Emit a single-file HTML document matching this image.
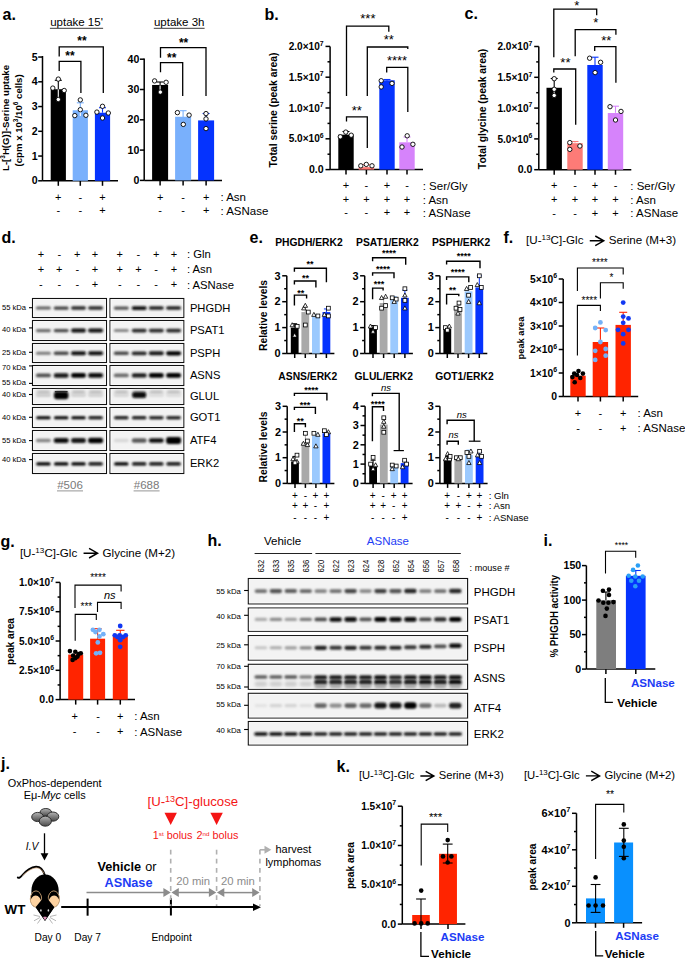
<!DOCTYPE html>
<html><head><meta charset="utf-8"><title>figure</title>
<style>
html,body{margin:0;padding:0;background:#fff;}
svg{display:block;}
text{font-family:"Liberation Sans",sans-serif;}
</style></head><body>
<svg width="685" height="959" viewBox="0 0 685 959">
<defs>
<linearGradient id="cg" x1="0" y1="0" x2="0" y2="1"><stop offset="0" stop-color="#b5b5b5"/><stop offset="1" stop-color="#4a4a4a"/></linearGradient>
<filter id="bl" x="-30%" y="-100%" width="160%" height="300%"><feGaussianBlur stdDeviation="0.6"/></filter>
<filter id="bl3" x="-30%" y="-100%" width="160%" height="300%"><feGaussianBlur stdDeviation="0.85"/></filter>
<filter id="bl4" x="-30%" y="-100%" width="160%" height="300%"><feGaussianBlur stdDeviation="0.75"/></filter>
<filter id="bl2" x="-30%" y="-80%" width="160%" height="260%"><feGaussianBlur stdDeviation="1.4"/></filter>
</defs>
<text x="2.6" y="19.6" font-size="16" font-weight="bold">a.</text>
<text x="76.5" y="26.3" font-size="11.5" text-anchor="middle">uptake 15'</text>
<text x="179.2" y="26.3" font-size="11.5" text-anchor="middle">uptake 3h</text>
<line x1="49.9" y1="28.3" x2="103.1" y2="28.3" stroke="#222" stroke-width="0.9" />
<line x1="153.8" y1="28.3" x2="204.6" y2="28.3" stroke="#222" stroke-width="0.9" />
<text x="8.8" y="118" font-size="9.6" font-weight="bold" text-anchor="middle" transform="rotate(-90 8.8 118)">L-[<tspan dy="-3.5" font-size="6.5">3</tspan><tspan dy="3.5">H(G)]-Serine uptake</tspan></text>
<text x="21.8" y="120.4" font-size="9.6" font-weight="bold" text-anchor="middle" transform="rotate(-90 21.8 120.4)">(cpm x 10<tspan dy="-3.5" font-size="6.5">3</tspan><tspan dy="3.5">/10</tspan><tspan dy="-3.5" font-size="6.5">6</tspan><tspan dy="3.5"> cells)</tspan></text>
<line x1="42.5" y1="56" x2="42.5" y2="180.8" stroke="#000" stroke-width="1.5" />
<line x1="38.2" y1="180.8" x2="42.5" y2="180.8" stroke="#000" stroke-width="1.5" />
<text x="37.6" y="184.46" font-size="10.6" font-weight="bold" text-anchor="end">0</text>
<line x1="38.2" y1="156.05" x2="42.5" y2="156.05" stroke="#000" stroke-width="1.5" />
<text x="37.6" y="159.71" font-size="10.6" font-weight="bold" text-anchor="end">1</text>
<line x1="38.2" y1="131.3" x2="42.5" y2="131.3" stroke="#000" stroke-width="1.5" />
<text x="37.6" y="134.96" font-size="10.6" font-weight="bold" text-anchor="end">2</text>
<line x1="38.2" y1="106.55" x2="42.5" y2="106.55" stroke="#000" stroke-width="1.5" />
<text x="37.6" y="110.21" font-size="10.6" font-weight="bold" text-anchor="end">3</text>
<line x1="38.2" y1="81.8" x2="42.5" y2="81.8" stroke="#000" stroke-width="1.5" />
<text x="37.6" y="85.46" font-size="10.6" font-weight="bold" text-anchor="end">4</text>
<line x1="38.2" y1="57.05" x2="42.5" y2="57.05" stroke="#000" stroke-width="1.5" />
<text x="37.6" y="60.71" font-size="10.6" font-weight="bold" text-anchor="end">5</text>
<line x1="42.5" y1="180.8" x2="118" y2="180.8" stroke="#000" stroke-width="1.5" />
<line x1="58.3" y1="180.8" x2="58.3" y2="185.8" stroke="#000" stroke-width="1.5" />
<line x1="80.3" y1="180.8" x2="80.3" y2="185.8" stroke="#000" stroke-width="1.5" />
<line x1="102.5" y1="180.8" x2="102.5" y2="185.8" stroke="#000" stroke-width="1.5" />
<rect x="50.7" y="89.23" width="15.2" height="91.58" fill="#000" />
<rect x="72.7" y="110.26" width="15.2" height="70.54" fill="#79b0fc" />
<rect x="94.9" y="112.74" width="15.2" height="68.06" fill="#0533fe" />
<line x1="58.3" y1="80.3" x2="58.3" y2="98" stroke="#fff" stroke-width="1.1" />
<line x1="54.8" y1="80.3" x2="61.8" y2="80.3" stroke="#fff" stroke-width="1.1" />
<line x1="58.3" y1="80.3" x2="58.3" y2="89.6" stroke="#000" stroke-width="1.1" />
<line x1="54.8" y1="80.3" x2="61.8" y2="80.3" stroke="#000" stroke-width="1.1" />
<line x1="80.3" y1="102.8" x2="80.3" y2="110" stroke="#79b0fc" stroke-width="1.1" />
<line x1="76.8" y1="102.8" x2="83.8" y2="102.8" stroke="#79b0fc" stroke-width="1.1" />
<line x1="80.3" y1="110" x2="80.3" y2="116" stroke="#fff" stroke-width="1.1" />
<line x1="102.5" y1="107.7" x2="102.5" y2="112.7" stroke="#0533fe" stroke-width="1.1" />
<line x1="99" y1="107.7" x2="106" y2="107.7" stroke="#0533fe" stroke-width="1.1" />
<circle cx="58.3" cy="79.1" r="2.2" fill="#fff" stroke="#000" stroke-width="0.9"/>
<circle cx="52.8" cy="88.1" r="2.2" fill="#fff" stroke="#000" stroke-width="0.9"/>
<circle cx="64.2" cy="90.5" r="2.2" fill="#fff" stroke="#000" stroke-width="0.9"/>
<circle cx="58.3" cy="99.5" r="2.2" fill="#fff" stroke="#000" stroke-width="0.9"/>
<circle cx="80.3" cy="99.9" r="2.2" fill="#fff" stroke="#000" stroke-width="0.9"/>
<circle cx="80.3" cy="109.7" r="2.2" fill="#fff" stroke="#000" stroke-width="0.9"/>
<circle cx="74.8" cy="115.6" r="2.2" fill="#fff" stroke="#000" stroke-width="0.9"/>
<circle cx="85.9" cy="115.3" r="2.2" fill="#fff" stroke="#000" stroke-width="0.9"/>
<circle cx="102.5" cy="106.3" r="2.2" fill="#fff" stroke="#000" stroke-width="0.9"/>
<circle cx="96.9" cy="112.1" r="2.2" fill="#fff" stroke="#000" stroke-width="0.9"/>
<circle cx="108.3" cy="113" r="2.2" fill="#fff" stroke="#000" stroke-width="0.9"/>
<circle cx="102.5" cy="118" r="2.2" fill="#fff" stroke="#000" stroke-width="0.9"/>
<path d="M59.2 56.4V46.8H103.3V92.9" fill="none" stroke="#000" stroke-width="1.3" />
<path d="M59.2 71V61.3H80.9V92.9" fill="none" stroke="#000" stroke-width="1.3" />
<text x="82" y="45.43" font-size="12" font-weight="bold" text-anchor="middle">**</text>
<text x="70" y="60.33" font-size="12" font-weight="bold" text-anchor="middle">**</text>
<line x1="144.2" y1="58.5" x2="144.2" y2="180.4" stroke="#000" stroke-width="1.5" />
<line x1="139.9" y1="180.4" x2="144.2" y2="180.4" stroke="#000" stroke-width="1.5" />
<text x="139.3" y="184.06" font-size="10.6" font-weight="bold" text-anchor="end">0</text>
<line x1="139.9" y1="150.1" x2="144.2" y2="150.1" stroke="#000" stroke-width="1.5" />
<text x="139.3" y="153.76" font-size="10.6" font-weight="bold" text-anchor="end">10</text>
<line x1="139.9" y1="119.8" x2="144.2" y2="119.8" stroke="#000" stroke-width="1.5" />
<text x="139.3" y="123.46" font-size="10.6" font-weight="bold" text-anchor="end">20</text>
<line x1="139.9" y1="89.5" x2="144.2" y2="89.5" stroke="#000" stroke-width="1.5" />
<text x="139.3" y="93.16" font-size="10.6" font-weight="bold" text-anchor="end">30</text>
<line x1="139.9" y1="59.2" x2="144.2" y2="59.2" stroke="#000" stroke-width="1.5" />
<text x="139.3" y="62.86" font-size="10.6" font-weight="bold" text-anchor="end">40</text>
<line x1="144.2" y1="180.4" x2="222" y2="180.4" stroke="#000" stroke-width="1.5" />
<line x1="160.1" y1="180.4" x2="160.1" y2="185.4" stroke="#000" stroke-width="1.5" />
<line x1="183.1" y1="180.4" x2="183.1" y2="185.4" stroke="#000" stroke-width="1.5" />
<line x1="206.1" y1="180.4" x2="206.1" y2="185.4" stroke="#000" stroke-width="1.5" />
<rect x="152.1" y="84.96" width="16" height="95.44" fill="#000" />
<rect x="175.1" y="116.77" width="16" height="63.63" fill="#79b0fc" />
<rect x="198.1" y="120.41" width="16" height="59.99" fill="#0533fe" />
<line x1="160.1" y1="82" x2="160.1" y2="85.5" stroke="#000" stroke-width="1.1" />
<line x1="156.6" y1="82" x2="163.6" y2="82" stroke="#000" stroke-width="1.1" />
<line x1="160.1" y1="85.5" x2="160.1" y2="92" stroke="#fff" stroke-width="1.1" />
<line x1="183.1" y1="110.7" x2="183.1" y2="117" stroke="#79b0fc" stroke-width="1.1" />
<line x1="179.6" y1="110.7" x2="186.6" y2="110.7" stroke="#79b0fc" stroke-width="1.1" />
<line x1="206.1" y1="113.5" x2="206.1" y2="120.5" stroke="#0533fe" stroke-width="1.1" />
<line x1="202.6" y1="113.5" x2="209.6" y2="113.5" stroke="#0533fe" stroke-width="1.1" />
<circle cx="154.6" cy="80.9" r="2.2" fill="#fff" stroke="#000" stroke-width="0.9"/>
<circle cx="166.1" cy="82.3" r="2.2" fill="#fff" stroke="#000" stroke-width="0.9"/>
<circle cx="160.3" cy="92.1" r="2.2" fill="#fff" stroke="#000" stroke-width="0.9"/>
<circle cx="177.4" cy="112.6" r="2.2" fill="#fff" stroke="#000" stroke-width="0.9"/>
<circle cx="189.1" cy="115.1" r="2.2" fill="#fff" stroke="#000" stroke-width="0.9"/>
<circle cx="183.3" cy="124.4" r="2.2" fill="#fff" stroke="#000" stroke-width="0.9"/>
<circle cx="206" cy="113.6" r="2.2" fill="#fff" stroke="#000" stroke-width="0.9"/>
<circle cx="206" cy="118.9" r="2.2" fill="#fff" stroke="#000" stroke-width="0.9"/>
<circle cx="206" cy="128.6" r="2.2" fill="#fff" stroke="#000" stroke-width="0.9"/>
<path d="M160.5 57.8V47.6H206V96" fill="none" stroke="#000" stroke-width="1.3" />
<path d="M160.5 72.2V62.7H182.7V96" fill="none" stroke="#000" stroke-width="1.3" />
<text x="183.6" y="47.03" font-size="12" font-weight="bold" text-anchor="middle">**</text>
<text x="171.7" y="62.43" font-size="12" font-weight="bold" text-anchor="middle">**</text>
<text x="58.3" y="200.56" font-size="11" text-anchor="middle">+</text>
<text x="58.3" y="214.36" font-size="11" text-anchor="middle">-</text>
<text x="80.3" y="200.56" font-size="11" text-anchor="middle">-</text>
<text x="80.3" y="214.36" font-size="11" text-anchor="middle">-</text>
<text x="102.5" y="200.56" font-size="11" text-anchor="middle">+</text>
<text x="102.5" y="214.36" font-size="11" text-anchor="middle">+</text>
<text x="160.1" y="200.56" font-size="11" text-anchor="middle">+</text>
<text x="160.1" y="214.36" font-size="11" text-anchor="middle">-</text>
<text x="183.1" y="200.56" font-size="11" text-anchor="middle">-</text>
<text x="183.1" y="214.36" font-size="11" text-anchor="middle">-</text>
<text x="206.1" y="200.56" font-size="11" text-anchor="middle">+</text>
<text x="206.1" y="214.36" font-size="11" text-anchor="middle">+</text>
<text x="220.4" y="200.8" font-size="11.5">: Asn</text>
<text x="220.4" y="214.6" font-size="11.5">: ASNase</text>
<text x="264.5" y="20" font-size="16" font-weight="bold">b.</text>
<text x="276.6" y="110" font-size="10.5" font-weight="bold" text-anchor="middle" transform="rotate(-90 276.6 110)" textLength="114.9" lengthAdjust="spacingAndGlyphs">Total serine (peak area)</text>
<line x1="330.1" y1="46.4" x2="330.1" y2="169.6" stroke="#000" stroke-width="1.5" />
<line x1="325.5" y1="169.6" x2="330.1" y2="169.6" stroke="#000" stroke-width="1.5" />
<text x="323.7" y="173.26" font-size="10.6" font-weight="bold" text-anchor="end">0.0</text>
<line x1="325.5" y1="138.8" x2="330.1" y2="138.8" stroke="#000" stroke-width="1.5" />
<text x="323.7" y="142.46" font-size="10.6" font-weight="bold" text-anchor="end" textLength="35" lengthAdjust="spacingAndGlyphs">5.0×10<tspan dy="-4.45" font-size="7.21">6</tspan></text>
<line x1="325.5" y1="108" x2="330.1" y2="108" stroke="#000" stroke-width="1.5" />
<text x="323.7" y="111.66" font-size="10.6" font-weight="bold" text-anchor="end" textLength="35" lengthAdjust="spacingAndGlyphs">1.0×10<tspan dy="-4.45" font-size="7.21">7</tspan></text>
<line x1="325.5" y1="77.2" x2="330.1" y2="77.2" stroke="#000" stroke-width="1.5" />
<text x="323.7" y="80.86" font-size="10.6" font-weight="bold" text-anchor="end" textLength="35" lengthAdjust="spacingAndGlyphs">1.5×10<tspan dy="-4.45" font-size="7.21">7</tspan></text>
<line x1="325.5" y1="46.4" x2="330.1" y2="46.4" stroke="#000" stroke-width="1.5" />
<text x="323.7" y="50.06" font-size="10.6" font-weight="bold" text-anchor="end" textLength="35" lengthAdjust="spacingAndGlyphs">2.0×10<tspan dy="-4.45" font-size="7.21">7</tspan></text>
<line x1="327.5" y1="154.2" x2="330.1" y2="154.2" stroke="#000" stroke-width="1.5" />
<line x1="327.5" y1="123.4" x2="330.1" y2="123.4" stroke="#000" stroke-width="1.5" />
<line x1="327.5" y1="92.6" x2="330.1" y2="92.6" stroke="#000" stroke-width="1.5" />
<line x1="327.5" y1="61.8" x2="330.1" y2="61.8" stroke="#000" stroke-width="1.5" />
<line x1="330.1" y1="169.6" x2="423" y2="169.6" stroke="#000" stroke-width="1.5" />
<line x1="346" y1="169.6" x2="346" y2="174.6" stroke="#000" stroke-width="1.5" />
<line x1="366.4" y1="169.6" x2="366.4" y2="174.6" stroke="#000" stroke-width="1.5" />
<line x1="387" y1="169.6" x2="387" y2="174.6" stroke="#000" stroke-width="1.5" />
<line x1="407" y1="169.6" x2="407" y2="174.6" stroke="#000" stroke-width="1.5" />
<rect x="338.3" y="134.67" width="15.4" height="34.93" fill="#000" />
<rect x="358.7" y="167.14" width="15.4" height="2.46" fill="#fd7b77" />
<rect x="379.3" y="80.28" width="15.4" height="89.32" fill="#0533fe" />
<rect x="399.3" y="142.31" width="15.4" height="27.29" fill="#d683fb" />
<line x1="346" y1="131.5" x2="346" y2="134.7" stroke="#000" stroke-width="1.1" />
<line x1="342.5" y1="131.5" x2="349.5" y2="131.5" stroke="#000" stroke-width="1.1" />
<line x1="366.4" y1="164.5" x2="366.4" y2="167.3" stroke="#fd7b77" stroke-width="1.1" />
<line x1="362.9" y1="164.5" x2="369.9" y2="164.5" stroke="#fd7b77" stroke-width="1.1" />
<line x1="387" y1="79.5" x2="387" y2="80.7" stroke="#0533fe" stroke-width="1.1" />
<line x1="383.5" y1="79.5" x2="390.5" y2="79.5" stroke="#0533fe" stroke-width="1.1" />
<line x1="407" y1="137" x2="407" y2="142.3" stroke="#d683fb" stroke-width="1.1" />
<line x1="403.5" y1="137" x2="410.5" y2="137" stroke="#d683fb" stroke-width="1.1" />
<circle cx="340.3" cy="136.8" r="2.2" fill="#fff" stroke="#000" stroke-width="0.9"/>
<circle cx="345.8" cy="132.1" r="2.2" fill="#fff" stroke="#000" stroke-width="0.9"/>
<circle cx="351.2" cy="135.2" r="2.2" fill="#fff" stroke="#000" stroke-width="0.9"/>
<circle cx="360.8" cy="165.8" r="2.2" fill="#fff" stroke="#000" stroke-width="0.9"/>
<circle cx="366.3" cy="164.4" r="2.2" fill="#fff" stroke="#000" stroke-width="0.9"/>
<circle cx="372" cy="165.8" r="2.2" fill="#fff" stroke="#000" stroke-width="0.9"/>
<circle cx="381.2" cy="80.7" r="2.2" fill="#fff" stroke="#000" stroke-width="0.9"/>
<circle cx="381.2" cy="86.9" r="2.2" fill="#fff" stroke="#000" stroke-width="0.9"/>
<circle cx="392" cy="83.4" r="2.2" fill="#fff" stroke="#000" stroke-width="0.9"/>
<circle cx="407.2" cy="135.8" r="2.2" fill="#fff" stroke="#000" stroke-width="0.9"/>
<circle cx="402" cy="147" r="2.2" fill="#fff" stroke="#000" stroke-width="0.9"/>
<circle cx="412.9" cy="144.3" r="2.2" fill="#fff" stroke="#000" stroke-width="0.9"/>
<path d="M346.5 96V26.2H388.8V31.7" fill="none" stroke="#000" stroke-width="1.3" />
<path d="M367.3 96V47H407.8V49" fill="none" stroke="#000" stroke-width="1.3" />
<path d="M386.7 72.5V67.4H407.8V112" fill="none" stroke="#000" stroke-width="1.3" />
<path d="M346.5 121.6V116.9H367.3V148" fill="none" stroke="#000" stroke-width="1.3" />
<text x="367.9" y="23.07" font-size="13" text-anchor="middle">***</text>
<text x="388.8" y="44.47" font-size="13" text-anchor="middle">**</text>
<text x="397" y="65.37" font-size="13" text-anchor="middle">****</text>
<text x="356.7" y="114.67" font-size="13" text-anchor="middle">**</text>
<text x="346" y="189.46" font-size="11" text-anchor="middle">+</text>
<text x="366.4" y="189.46" font-size="11" text-anchor="middle">-</text>
<text x="387" y="189.46" font-size="11" text-anchor="middle">+</text>
<text x="407" y="189.46" font-size="11" text-anchor="middle">-</text>
<text x="346" y="203.36" font-size="11" text-anchor="middle">+</text>
<text x="366.4" y="203.36" font-size="11" text-anchor="middle">+</text>
<text x="387" y="203.36" font-size="11" text-anchor="middle">+</text>
<text x="407" y="203.36" font-size="11" text-anchor="middle">+</text>
<text x="346" y="216.46" font-size="11" text-anchor="middle">-</text>
<text x="366.4" y="216.46" font-size="11" text-anchor="middle">-</text>
<text x="387" y="216.46" font-size="11" text-anchor="middle">+</text>
<text x="407" y="216.46" font-size="11" text-anchor="middle">+</text>
<text x="422.7" y="189.7" font-size="11.5">: Ser/Gly</text>
<text x="422.7" y="203.6" font-size="11.5">: Asn</text>
<text x="422.7" y="216.7" font-size="11.5">: ASNase</text>
<text x="464.5" y="18.8" font-size="16" font-weight="bold">c.</text>
<text x="485.7" y="109" font-size="10.5" font-weight="bold" text-anchor="middle" transform="rotate(-90 485.7 109)" textLength="120.3" lengthAdjust="spacingAndGlyphs">Total glycine (peak area)</text>
<line x1="538.8" y1="46.5" x2="538.8" y2="169.7" stroke="#000" stroke-width="1.5" />
<line x1="534.2" y1="169.7" x2="538.8" y2="169.7" stroke="#000" stroke-width="1.5" />
<text x="532.4" y="173.36" font-size="10.6" font-weight="bold" text-anchor="end">0.0</text>
<line x1="534.2" y1="138.9" x2="538.8" y2="138.9" stroke="#000" stroke-width="1.5" />
<text x="532.4" y="142.56" font-size="10.6" font-weight="bold" text-anchor="end" textLength="35" lengthAdjust="spacingAndGlyphs">5.0×10<tspan dy="-4.45" font-size="7.21">6</tspan></text>
<line x1="534.2" y1="108.1" x2="538.8" y2="108.1" stroke="#000" stroke-width="1.5" />
<text x="532.4" y="111.76" font-size="10.6" font-weight="bold" text-anchor="end" textLength="35" lengthAdjust="spacingAndGlyphs">1.0×10<tspan dy="-4.45" font-size="7.21">7</tspan></text>
<line x1="534.2" y1="77.3" x2="538.8" y2="77.3" stroke="#000" stroke-width="1.5" />
<text x="532.4" y="80.96" font-size="10.6" font-weight="bold" text-anchor="end" textLength="35" lengthAdjust="spacingAndGlyphs">1.5×10<tspan dy="-4.45" font-size="7.21">7</tspan></text>
<line x1="534.2" y1="46.5" x2="538.8" y2="46.5" stroke="#000" stroke-width="1.5" />
<text x="532.4" y="50.16" font-size="10.6" font-weight="bold" text-anchor="end" textLength="35" lengthAdjust="spacingAndGlyphs">2.0×10<tspan dy="-4.45" font-size="7.21">7</tspan></text>
<line x1="536.2" y1="154.3" x2="538.8" y2="154.3" stroke="#000" stroke-width="1.5" />
<line x1="536.2" y1="123.5" x2="538.8" y2="123.5" stroke="#000" stroke-width="1.5" />
<line x1="536.2" y1="92.7" x2="538.8" y2="92.7" stroke="#000" stroke-width="1.5" />
<line x1="536.2" y1="61.9" x2="538.8" y2="61.9" stroke="#000" stroke-width="1.5" />
<line x1="538.8" y1="169.7" x2="631.3" y2="169.7" stroke="#000" stroke-width="1.5" />
<line x1="554.2" y1="169.7" x2="554.2" y2="174.7" stroke="#000" stroke-width="1.5" />
<line x1="575" y1="169.7" x2="575" y2="174.7" stroke="#000" stroke-width="1.5" />
<line x1="595" y1="169.7" x2="595" y2="174.7" stroke="#000" stroke-width="1.5" />
<line x1="615.5" y1="169.7" x2="615.5" y2="174.7" stroke="#000" stroke-width="1.5" />
<rect x="546.5" y="87.77" width="15.4" height="81.93" fill="#000" />
<rect x="567.3" y="143.21" width="15.4" height="26.49" fill="#fd7b77" />
<rect x="587.3" y="64.98" width="15.4" height="104.72" fill="#0533fe" />
<rect x="607.8" y="113.03" width="15.4" height="56.67" fill="#d683fb" />
<line x1="554.2" y1="78.5" x2="554.2" y2="88.3" stroke="#000" stroke-width="1.1" />
<line x1="550.7" y1="78.5" x2="557.7" y2="78.5" stroke="#000" stroke-width="1.1" />
<line x1="554.2" y1="88.3" x2="554.2" y2="95" stroke="#fff" stroke-width="1.1" />
<line x1="575" y1="141.5" x2="575" y2="142.6" stroke="#fd7b77" stroke-width="1.1" />
<line x1="571.5" y1="141.5" x2="578.5" y2="141.5" stroke="#fd7b77" stroke-width="1.1" />
<line x1="595" y1="57.2" x2="595" y2="65" stroke="#0533fe" stroke-width="1.1" />
<line x1="591.5" y1="57.2" x2="598.5" y2="57.2" stroke="#0533fe" stroke-width="1.1" />
<line x1="615.5" y1="106.2" x2="615.5" y2="112.8" stroke="#d683fb" stroke-width="1.1" />
<line x1="612" y1="106.2" x2="619" y2="106.2" stroke="#d683fb" stroke-width="1.1" />
<circle cx="554.2" cy="78.7" r="2.2" fill="#fff" stroke="#000" stroke-width="0.9"/>
<circle cx="554.2" cy="89.3" r="2.2" fill="#fff" stroke="#000" stroke-width="0.9"/>
<circle cx="554.2" cy="95.4" r="2.2" fill="#fff" stroke="#000" stroke-width="0.9"/>
<circle cx="569.8" cy="142.6" r="2.2" fill="#fff" stroke="#000" stroke-width="0.9"/>
<circle cx="569.8" cy="149.4" r="2.2" fill="#fff" stroke="#000" stroke-width="0.9"/>
<circle cx="579.9" cy="146" r="2.2" fill="#fff" stroke="#000" stroke-width="0.9"/>
<circle cx="589.6" cy="58.2" r="2.2" fill="#fff" stroke="#000" stroke-width="0.9"/>
<circle cx="600.6" cy="62.3" r="2.2" fill="#fff" stroke="#000" stroke-width="0.9"/>
<circle cx="595.1" cy="72.6" r="2.2" fill="#fff" stroke="#000" stroke-width="0.9"/>
<circle cx="610" cy="106.7" r="2.2" fill="#fff" stroke="#000" stroke-width="0.9"/>
<circle cx="621" cy="111.4" r="2.2" fill="#fff" stroke="#000" stroke-width="0.9"/>
<circle cx="615.5" cy="120" r="2.2" fill="#fff" stroke="#000" stroke-width="0.9"/>
<path d="M553.8 57.2V9.2H596.7V15.3" fill="none" stroke="#000" stroke-width="1.3" />
<path d="M575.2 56.2V29.6H615.9V34.7" fill="none" stroke="#000" stroke-width="1.3" />
<path d="M594.7 51V46.6H615.9V82.8" fill="none" stroke="#000" stroke-width="1.3" />
<path d="M553.8 72.5V69H575.7V124.7" fill="none" stroke="#000" stroke-width="1.3" />
<text x="576.7" y="9.67" font-size="13" text-anchor="middle">*</text>
<text x="595.7" y="27.07" font-size="13" text-anchor="middle">*</text>
<text x="606.3" y="44.87" font-size="13" text-anchor="middle">**</text>
<text x="565.4" y="66.97" font-size="13" text-anchor="middle">**</text>
<text x="554.2" y="189.26" font-size="11" text-anchor="middle">+</text>
<text x="575" y="189.26" font-size="11" text-anchor="middle">-</text>
<text x="595" y="189.26" font-size="11" text-anchor="middle">+</text>
<text x="615.5" y="189.26" font-size="11" text-anchor="middle">-</text>
<text x="554.2" y="203.36" font-size="11" text-anchor="middle">+</text>
<text x="575" y="203.36" font-size="11" text-anchor="middle">+</text>
<text x="595" y="203.36" font-size="11" text-anchor="middle">+</text>
<text x="615.5" y="203.36" font-size="11" text-anchor="middle">+</text>
<text x="554.2" y="216.66" font-size="11" text-anchor="middle">-</text>
<text x="575" y="216.66" font-size="11" text-anchor="middle">-</text>
<text x="595" y="216.66" font-size="11" text-anchor="middle">+</text>
<text x="615.5" y="216.66" font-size="11" text-anchor="middle">+</text>
<text x="630.3" y="189.5" font-size="11.5">: Ser/Gly</text>
<text x="630.3" y="203.6" font-size="11.5">: Asn</text>
<text x="630.3" y="216.9" font-size="11.5">: ASNase</text>
<text x="1.5" y="243" font-size="16" font-weight="bold">d.</text>
<text x="40.9" y="258.06" font-size="11" text-anchor="middle">+</text>
<text x="59.3" y="258.06" font-size="11" text-anchor="middle">-</text>
<text x="77.3" y="258.06" font-size="11" text-anchor="middle">+</text>
<text x="95" y="258.06" font-size="11" text-anchor="middle">+</text>
<text x="119.8" y="258.06" font-size="11" text-anchor="middle">+</text>
<text x="138.4" y="258.06" font-size="11" text-anchor="middle">-</text>
<text x="156.2" y="258.06" font-size="11" text-anchor="middle">+</text>
<text x="174" y="258.06" font-size="11" text-anchor="middle">+</text>
<text x="40.9" y="273.16" font-size="11" text-anchor="middle">+</text>
<text x="59.3" y="273.16" font-size="11" text-anchor="middle">+</text>
<text x="77.3" y="273.16" font-size="11" text-anchor="middle">-</text>
<text x="95" y="273.16" font-size="11" text-anchor="middle">+</text>
<text x="119.8" y="273.16" font-size="11" text-anchor="middle">+</text>
<text x="138.4" y="273.16" font-size="11" text-anchor="middle">+</text>
<text x="156.2" y="273.16" font-size="11" text-anchor="middle">-</text>
<text x="174" y="273.16" font-size="11" text-anchor="middle">+</text>
<text x="40.9" y="288.46" font-size="11" text-anchor="middle">-</text>
<text x="59.3" y="288.46" font-size="11" text-anchor="middle">-</text>
<text x="77.3" y="288.46" font-size="11" text-anchor="middle">-</text>
<text x="95" y="288.46" font-size="11" text-anchor="middle">+</text>
<text x="119.8" y="288.46" font-size="11" text-anchor="middle">-</text>
<text x="138.4" y="288.46" font-size="11" text-anchor="middle">-</text>
<text x="156.2" y="288.46" font-size="11" text-anchor="middle">-</text>
<text x="174" y="288.46" font-size="11" text-anchor="middle">+</text>
<text x="186.9" y="258.3" font-size="11.3">: Gln</text>
<text x="186.9" y="273.4" font-size="11.3">: Asn</text>
<text x="186.9" y="288.7" font-size="11.3">: ASNase</text>
<rect x="32.5" y="298.5" width="74" height="19" fill="#f3f3f3" stroke="#111" stroke-width="1.1"/>
<rect x="33.6" y="299.6" width="71.8" height="16.8" fill="none" stroke="#fafafa" stroke-width="0.9"/>
<rect x="110" y="298.5" width="73.8" height="19" fill="#f3f3f3" stroke="#111" stroke-width="1.1"/>
<rect x="111.1" y="299.6" width="71.6" height="16.8" fill="none" stroke="#fafafa" stroke-width="0.9"/>
<rect x="35.9" y="306.59" width="15" height="3.02" rx="1.51" fill="rgb(95,95,95)" filter="url(#bl3)"/>
<rect x="53.7" y="306.48" width="15" height="3.25" rx="1.62" fill="rgb(64,64,64)" filter="url(#bl3)"/>
<rect x="71" y="306.37" width="15" height="3.45" rx="1.73" fill="rgb(42,42,42)" filter="url(#bl3)"/>
<rect x="88.1" y="306.37" width="15" height="3.45" rx="1.73" fill="rgb(42,42,42)" filter="url(#bl3)"/>
<rect x="113.8" y="306.55" width="15" height="3.1" rx="1.55" fill="rgb(83,83,83)" filter="url(#bl3)"/>
<rect x="131.7" y="306.21" width="15" height="3.78" rx="1.89" fill="rgb(13,13,13)" filter="url(#bl3)"/>
<rect x="148.8" y="306.33" width="15" height="3.54" rx="1.77" fill="rgb(33,33,33)" filter="url(#bl3)"/>
<rect x="166.1" y="306.33" width="15" height="3.54" rx="1.77" fill="rgb(33,33,33)" filter="url(#bl3)"/>
<text x="189.9" y="311.9" font-size="11.2">PHGDH</text>
<rect x="32.5" y="320.5" width="74" height="20" fill="#f3f3f3" stroke="#111" stroke-width="1.1"/>
<rect x="33.6" y="321.6" width="71.8" height="17.8" fill="none" stroke="#fafafa" stroke-width="0.9"/>
<rect x="110" y="320.5" width="73.8" height="20" fill="#f3f3f3" stroke="#111" stroke-width="1.1"/>
<rect x="111.1" y="321.6" width="71.6" height="17.8" fill="none" stroke="#fafafa" stroke-width="0.9"/>
<rect x="35.9" y="329.03" width="15" height="3.15" rx="1.57" fill="rgb(107,107,107)" filter="url(#bl3)"/>
<rect x="53.7" y="328.9" width="15" height="3.39" rx="1.7" fill="rgb(71,71,71)" filter="url(#bl3)"/>
<rect x="71" y="328.59" width="15" height="4.01" rx="2.01" fill="rgb(11,11,11)" filter="url(#bl3)"/>
<rect x="88.1" y="328.59" width="15" height="4.01" rx="2.01" fill="rgb(11,11,11)" filter="url(#bl3)"/>
<rect x="113.8" y="329.09" width="15" height="3.02" rx="1.51" fill="rgb(132,132,132)" filter="url(#bl3)"/>
<rect x="131.7" y="328.77" width="15" height="3.65" rx="1.83" fill="rgb(42,42,42)" filter="url(#bl3)"/>
<rect x="148.8" y="328.77" width="15" height="3.65" rx="1.83" fill="rgb(42,42,42)" filter="url(#bl3)"/>
<rect x="166.1" y="328.77" width="15" height="3.65" rx="1.83" fill="rgb(42,42,42)" filter="url(#bl3)"/>
<text x="189.9" y="334.4" font-size="11.2">PSAT1</text>
<rect x="32.5" y="343.5" width="74" height="19" fill="#f3f3f3" stroke="#111" stroke-width="1.1"/>
<rect x="33.6" y="344.6" width="71.8" height="16.8" fill="none" stroke="#fafafa" stroke-width="0.9"/>
<rect x="110" y="343.5" width="73.8" height="19" fill="#f3f3f3" stroke="#111" stroke-width="1.1"/>
<rect x="111.1" y="344.6" width="71.6" height="16.8" fill="none" stroke="#fafafa" stroke-width="0.9"/>
<rect x="35.9" y="351.76" width="15" height="3.08" rx="1.54" fill="rgb(120,120,120)" filter="url(#bl3)"/>
<rect x="53.7" y="351.6" width="15" height="3.39" rx="1.7" fill="rgb(71,71,71)" filter="url(#bl3)"/>
<rect x="71" y="351.29" width="15" height="4.01" rx="2.01" fill="rgb(11,11,11)" filter="url(#bl3)"/>
<rect x="88.1" y="351.29" width="15" height="4.01" rx="2.01" fill="rgb(11,11,11)" filter="url(#bl3)"/>
<rect x="113.8" y="351.6" width="15" height="3.39" rx="1.7" fill="rgb(71,71,71)" filter="url(#bl3)"/>
<rect x="131.7" y="351.45" width="15" height="3.7" rx="1.85" fill="rgb(37,37,37)" filter="url(#bl3)"/>
<rect x="148.8" y="351.36" width="15" height="3.88" rx="1.94" fill="rgb(21,21,21)" filter="url(#bl3)"/>
<rect x="166.1" y="351.2" width="15" height="4.2" rx="2.1" fill="rgb(0,0,0)" filter="url(#bl3)"/>
<text x="189.9" y="356.9" font-size="11.2">PSPH</text>
<rect x="32.5" y="365.5" width="74" height="20" fill="#f3f3f3" stroke="#111" stroke-width="1.1"/>
<rect x="33.6" y="366.6" width="71.8" height="17.8" fill="none" stroke="#fafafa" stroke-width="0.9"/>
<rect x="110" y="365.5" width="73.8" height="20" fill="#f3f3f3" stroke="#111" stroke-width="1.1"/>
<rect x="111.1" y="366.6" width="71.6" height="17.8" fill="none" stroke="#fafafa" stroke-width="0.9"/>
<rect x="35.9" y="373.43" width="15" height="3.94" rx="1.97" fill="rgb(78,78,78)" filter="url(#bl3)"/>
<rect x="53.7" y="373.16" width="15" height="4.48" rx="2.24" fill="rgb(21,21,21)" filter="url(#bl3)"/>
<rect x="71" y="373" width="15" height="4.8" rx="2.4" fill="rgb(0,0,0)" filter="url(#bl3)"/>
<rect x="88.1" y="373.11" width="15" height="4.58" rx="2.29" fill="rgb(13,13,13)" filter="url(#bl3)"/>
<rect x="113.8" y="373.52" width="15" height="3.75" rx="1.88" fill="rgb(107,107,107)" filter="url(#bl3)"/>
<rect x="131.7" y="373.21" width="15" height="4.39" rx="2.19" fill="rgb(29,29,29)" filter="url(#bl3)"/>
<rect x="148.8" y="373.04" width="15" height="4.72" rx="2.36" fill="rgb(4,4,4)" filter="url(#bl3)"/>
<rect x="166.1" y="373" width="15" height="4.8" rx="2.4" fill="rgb(0,0,0)" filter="url(#bl3)"/>
<text x="189.9" y="379.4" font-size="11.2">ASNS</text>
<rect x="32.5" y="388.5" width="74" height="16" fill="#f3f3f3" stroke="#111" stroke-width="1.1"/>
<rect x="33.6" y="389.6" width="71.8" height="13.8" fill="none" stroke="#fafafa" stroke-width="0.9"/>
<rect x="110" y="388.5" width="73.8" height="16" fill="#f3f3f3" stroke="#111" stroke-width="1.1"/>
<rect x="111.1" y="389.6" width="71.6" height="13.8" fill="none" stroke="#fafafa" stroke-width="0.9"/>
<rect x="36.4" y="390.25" width="14" height="4.5" rx="2.25" fill="rgb(189,189,189)" filter="url(#bl2)"/>
<rect x="54.2" y="390.25" width="14" height="4.5" rx="2.25" fill="rgb(189,189,189)" filter="url(#bl2)"/>
<rect x="71.5" y="390.25" width="14" height="4.5" rx="2.25" fill="rgb(189,189,189)" filter="url(#bl2)"/>
<rect x="88.6" y="390.25" width="14" height="4.5" rx="2.25" fill="rgb(189,189,189)" filter="url(#bl2)"/>
<rect x="114.3" y="390.25" width="14" height="4.5" rx="2.25" fill="rgb(189,189,189)" filter="url(#bl2)"/>
<rect x="132.2" y="390.25" width="14" height="4.5" rx="2.25" fill="rgb(189,189,189)" filter="url(#bl2)"/>
<rect x="149.3" y="390.25" width="14" height="4.5" rx="2.25" fill="rgb(189,189,189)" filter="url(#bl2)"/>
<rect x="166.6" y="390.25" width="14" height="4.5" rx="2.25" fill="rgb(189,189,189)" filter="url(#bl2)"/>
<rect x="35.9" y="393.79" width="15" height="3.22" rx="1.61" fill="rgb(205,205,205)" filter="url(#bl3)"/>
<rect x="53.95" y="391.65" width="14.5" height="7.5" rx="3" fill="rgb(0,0,0)" filter="url(#bl3)"/>
<rect x="54.7" y="391.05" width="13" height="1.5" rx="0.75" fill="rgb(37,37,37)" filter="url(#bl)"/>
<rect x="71" y="393.79" width="15" height="3.21" rx="1.61" fill="rgb(211,211,211)" filter="url(#bl3)"/>
<rect x="88.1" y="393.79" width="15" height="3.21" rx="1.61" fill="rgb(211,211,211)" filter="url(#bl3)"/>
<rect x="113.8" y="393.8" width="15" height="3.21" rx="1.6" fill="rgb(216,216,216)" filter="url(#bl3)"/>
<rect x="132.2" y="391.9" width="14" height="6" rx="2.5" fill="rgb(8,8,8)" filter="url(#bl3)"/>
<rect x="148.8" y="393.8" width="15" height="3.21" rx="1.6" fill="rgb(222,222,222)" filter="url(#bl3)"/>
<rect x="166.1" y="393.8" width="15" height="3.21" rx="1.6" fill="rgb(222,222,222)" filter="url(#bl3)"/>
<text x="189.9" y="400.4" font-size="11.2">GLUL</text>
<rect x="32.5" y="407.5" width="74" height="20" fill="#f3f3f3" stroke="#111" stroke-width="1.1"/>
<rect x="33.6" y="408.6" width="71.8" height="17.8" fill="none" stroke="#fafafa" stroke-width="0.9"/>
<rect x="110" y="407.5" width="73.8" height="20" fill="#f3f3f3" stroke="#111" stroke-width="1.1"/>
<rect x="111.1" y="408.6" width="71.6" height="17.8" fill="none" stroke="#fafafa" stroke-width="0.9"/>
<rect x="36.15" y="416.24" width="14.5" height="3.13" rx="1.56" fill="rgb(0,0,0)" filter="url(#bl3)"/>
<rect x="53.95" y="416.28" width="14.5" height="3.04" rx="1.52" fill="rgb(6,6,6)" filter="url(#bl3)"/>
<rect x="71.25" y="416.26" width="14.5" height="3.08" rx="1.54" fill="rgb(3,3,3)" filter="url(#bl3)"/>
<rect x="88.35" y="416.29" width="14.5" height="3.02" rx="1.51" fill="rgb(8,8,8)" filter="url(#bl3)"/>
<rect x="114.05" y="416.29" width="14.5" height="3.02" rx="1.51" fill="rgb(8,8,8)" filter="url(#bl3)"/>
<rect x="131.95" y="416.29" width="14.5" height="3.02" rx="1.51" fill="rgb(8,8,8)" filter="url(#bl3)"/>
<rect x="149.05" y="416.31" width="14.5" height="2.97" rx="1.49" fill="rgb(12,12,12)" filter="url(#bl3)"/>
<rect x="166.35" y="416.34" width="14.5" height="2.93" rx="1.46" fill="rgb(16,16,16)" filter="url(#bl3)"/>
<text x="189.9" y="421.4" font-size="11.2">GOT1</text>
<rect x="32.5" y="430.5" width="74" height="20" fill="#f3f3f3" stroke="#111" stroke-width="1.1"/>
<rect x="33.6" y="431.6" width="71.8" height="17.8" fill="none" stroke="#fafafa" stroke-width="0.9"/>
<rect x="110" y="430.5" width="73.8" height="20" fill="#f3f3f3" stroke="#111" stroke-width="1.1"/>
<rect x="111.1" y="431.6" width="71.6" height="17.8" fill="none" stroke="#fafafa" stroke-width="0.9"/>
<rect x="35.9" y="438.69" width="15" height="3.62" rx="1.81" fill="rgb(132,132,132)" filter="url(#bl3)"/>
<rect x="53.7" y="437.9" width="15" height="5.2" rx="2.4" fill="rgb(13,13,13)" filter="url(#bl3)"/>
<rect x="71" y="437.9" width="15" height="5.2" rx="2.4" fill="rgb(25,25,25)" filter="url(#bl3)"/>
<rect x="88.1" y="437.7" width="15" height="5.6" rx="2.4" fill="rgb(0,0,0)" filter="url(#bl3)"/>
<rect x="113.8" y="438.8" width="15" height="3.41" rx="1.7" fill="rgb(216,216,216)" filter="url(#bl3)"/>
<rect x="131.7" y="438.3" width="15" height="4.4" rx="2.4" fill="rgb(88,88,88)" filter="url(#bl3)"/>
<rect x="148.8" y="438.3" width="15" height="4.4" rx="2.4" fill="rgb(17,17,17)" filter="url(#bl3)"/>
<rect x="166.1" y="437.1" width="15" height="6.8" rx="2.4" fill="rgb(0,0,0)" filter="url(#bl3)"/>
<text x="189.9" y="444.4" font-size="11.2">ATF4</text>
<rect x="32.5" y="453.5" width="74" height="20" fill="#f3f3f3" stroke="#111" stroke-width="1.1"/>
<rect x="33.6" y="454.6" width="71.8" height="17.8" fill="none" stroke="#fafafa" stroke-width="0.9"/>
<rect x="110" y="453.5" width="73.8" height="20" fill="#f3f3f3" stroke="#111" stroke-width="1.1"/>
<rect x="111.1" y="454.6" width="71.6" height="17.8" fill="none" stroke="#fafafa" stroke-width="0.9"/>
<rect x="36.15" y="462.19" width="14.5" height="3.43" rx="1.71" fill="rgb(0,0,0)" filter="url(#bl3)"/>
<rect x="53.95" y="462.22" width="14.5" height="3.36" rx="1.68" fill="rgb(5,5,5)" filter="url(#bl3)"/>
<rect x="71.25" y="462.22" width="14.5" height="3.36" rx="1.68" fill="rgb(5,5,5)" filter="url(#bl3)"/>
<rect x="88.35" y="462.24" width="14.5" height="3.32" rx="1.66" fill="rgb(8,8,8)" filter="url(#bl3)"/>
<rect x="114.05" y="462.19" width="14.5" height="3.43" rx="1.71" fill="rgb(0,0,0)" filter="url(#bl3)"/>
<rect x="131.95" y="462.24" width="14.5" height="3.32" rx="1.66" fill="rgb(8,8,8)" filter="url(#bl3)"/>
<rect x="149.05" y="462.24" width="14.5" height="3.32" rx="1.66" fill="rgb(8,8,8)" filter="url(#bl3)"/>
<rect x="166.35" y="462.24" width="14.5" height="3.32" rx="1.66" fill="rgb(8,8,8)" filter="url(#bl3)"/>
<text x="189.9" y="467.4" font-size="11.2">ERK2</text>
<text x="2" y="310.4" font-size="7.6">55 kDa</text>
<line x1="29" y1="307.7" x2="32.5" y2="307.7" stroke="#000" stroke-width="1.1" />
<text x="2" y="332.2" font-size="7.6">40 kDa</text>
<line x1="29" y1="327.9" x2="32.5" y2="327.9" stroke="#000" stroke-width="1.1" />
<text x="2" y="355" font-size="7.6">25 kDa</text>
<line x1="29" y1="352.3" x2="32.5" y2="352.3" stroke="#000" stroke-width="1.1" />
<text x="2" y="370.2" font-size="7.6">70 kDa</text>
<line x1="29" y1="365.9" x2="32.5" y2="365.9" stroke="#000" stroke-width="1.1" />
<text x="2" y="384.5" font-size="7.6">55 kDa</text>
<line x1="29" y1="383.4" x2="32.5" y2="383.4" stroke="#000" stroke-width="1.1" />
<text x="2" y="397.2" font-size="7.6">40 kDa</text>
<line x1="29" y1="394.5" x2="32.5" y2="394.5" stroke="#000" stroke-width="1.1" />
<text x="2" y="420" font-size="7.6">40 kDa</text>
<line x1="29" y1="417.3" x2="32.5" y2="417.3" stroke="#000" stroke-width="1.1" />
<text x="2" y="443" font-size="7.6">55 kDa</text>
<line x1="29" y1="440.6" x2="32.5" y2="440.6" stroke="#000" stroke-width="1.1" />
<text x="2" y="462.1" font-size="7.6">40 kDa</text>
<line x1="29" y1="459.6" x2="32.5" y2="459.6" stroke="#000" stroke-width="1.1" />
<text x="70" y="489.2" font-size="11.5" text-anchor="middle" fill="#7a7a7a">#506</text>
<text x="146.6" y="489.2" font-size="11.5" text-anchor="middle" fill="#7a7a7a">#688</text>
<line x1="57" y1="490.9" x2="83" y2="490.9" stroke="#8a8a8a" stroke-width="0.9" />
<line x1="133.6" y1="490.9" x2="159.6" y2="490.9" stroke="#8a8a8a" stroke-width="0.9" />
<text x="249.5" y="243.2" font-size="16" font-weight="bold">e.</text>
<text x="308.9" y="245.6" font-size="10.3" font-weight="bold" text-anchor="middle">PHGDH/ERK2</text>
<text x="387.4" y="245.6" font-size="10.3" font-weight="bold" text-anchor="middle">PSAT1/ERK2</text>
<text x="461.1" y="245.6" font-size="10.3" font-weight="bold" text-anchor="middle">PSPH/ERK2</text>
<text x="307.8" y="379.8" font-size="10.3" font-weight="bold" text-anchor="middle">ASNS/ERK2</text>
<text x="383.8" y="379.8" font-size="10.3" font-weight="bold" text-anchor="middle">GLUL/ERK2</text>
<text x="464.5" y="379.8" font-size="10.3" font-weight="bold" text-anchor="middle">GOT1/ERK2</text>
<text x="266.6" y="315.5" font-size="10.3" font-weight="bold" text-anchor="middle" transform="rotate(-90 266.6 315.5)">Relative levels</text>
<text x="266.6" y="447" font-size="10.3" font-weight="bold" text-anchor="middle" transform="rotate(-90 266.6 447)">Relative levels</text>
<line x1="286.8" y1="275.8" x2="286.8" y2="353.5" stroke="#000" stroke-width="1.5" />
<line x1="282.2" y1="353.5" x2="286.8" y2="353.5" stroke="#000" stroke-width="1.5" />
<text x="280.6" y="357.26" font-size="10.9" font-weight="bold" text-anchor="end">0</text>
<line x1="282.2" y1="327.6" x2="286.8" y2="327.6" stroke="#000" stroke-width="1.5" />
<text x="280.6" y="331.36" font-size="10.9" font-weight="bold" text-anchor="end">1</text>
<line x1="282.2" y1="301.7" x2="286.8" y2="301.7" stroke="#000" stroke-width="1.5" />
<text x="280.6" y="305.46" font-size="10.9" font-weight="bold" text-anchor="end">2</text>
<line x1="282.2" y1="275.8" x2="286.8" y2="275.8" stroke="#000" stroke-width="1.5" />
<text x="280.6" y="279.56" font-size="10.9" font-weight="bold" text-anchor="end">3</text>
<line x1="284.2" y1="340.55" x2="286.8" y2="340.55" stroke="#000" stroke-width="1.5" />
<line x1="284.2" y1="314.65" x2="286.8" y2="314.65" stroke="#000" stroke-width="1.5" />
<line x1="284.2" y1="288.75" x2="286.8" y2="288.75" stroke="#000" stroke-width="1.5" />
<line x1="286.8" y1="353.5" x2="334.4" y2="353.5" stroke="#000" stroke-width="1.5" />
<line x1="294.7" y1="353.5" x2="294.7" y2="358" stroke="#000" stroke-width="1.5" />
<line x1="305.3" y1="353.5" x2="305.3" y2="358" stroke="#000" stroke-width="1.5" />
<line x1="315.9" y1="353.5" x2="315.9" y2="358" stroke="#000" stroke-width="1.5" />
<line x1="326.4" y1="353.5" x2="326.4" y2="358" stroke="#000" stroke-width="1.5" />
<rect x="290.8" y="327.6" width="7.8" height="25.9" fill="#000" />
<line x1="294.7" y1="327.6" x2="294.7" y2="323.72" stroke="#000" stroke-width="1" />
<line x1="292.2" y1="323.72" x2="297.2" y2="323.72" stroke="#000" stroke-width="1" />
<rect x="301.4" y="312.06" width="7.8" height="41.44" fill="#a9a9a9" />
<line x1="305.3" y1="312.06" x2="305.3" y2="306.88" stroke="#a9a9a9" stroke-width="1" />
<line x1="302.8" y1="306.88" x2="307.8" y2="306.88" stroke="#a9a9a9" stroke-width="1" />
<rect x="312" y="315.94" width="7.8" height="37.56" fill="#9bc9fe" />
<line x1="315.9" y1="315.94" x2="315.9" y2="314.65" stroke="#9bc9fe" stroke-width="1" />
<line x1="313.4" y1="314.65" x2="318.4" y2="314.65" stroke="#9bc9fe" stroke-width="1" />
<rect x="322.5" y="312.06" width="7.8" height="41.44" fill="#0533fe" />
<line x1="326.4" y1="312.06" x2="326.4" y2="308.95" stroke="#0533fe" stroke-width="1" />
<line x1="323.9" y1="308.95" x2="328.9" y2="308.95" stroke="#0533fe" stroke-width="1" />
<path d="M292.2 322.71L294.38 326.74L290.01 326.74Z" fill="#fff" stroke="#000" stroke-width="0.8" />
<rect x="295.3" y="324.41" width="3.8" height="3.8" fill="#fff" stroke="#000" stroke-width="0.8"/>
<path d="M294.7 333.07L296.88 337.1L292.51 337.1Z" fill="#fff" stroke="#000" stroke-width="0.8" />
<path d="M303.8 305.88L305.99 309.9L301.62 309.9Z" fill="#fff" stroke="#000" stroke-width="0.8" />
<path d="M305.3 303.28L307.49 307.31L303.12 307.31Z" fill="#fff" stroke="#000" stroke-width="0.8" />
<rect x="306.4" y="310.16" width="3.8" height="3.8" fill="#fff" stroke="#000" stroke-width="0.8"/>
<rect x="303.4" y="323.11" width="3.8" height="3.8" fill="#fff" stroke="#000" stroke-width="0.8"/>
<path d="M313.9 312.35L316.08 316.38L311.71 316.38Z" fill="#fff" stroke="#000" stroke-width="0.8" />
<rect x="316" y="314.05" width="3.8" height="3.8" fill="#fff" stroke="#000" stroke-width="0.8"/>
<rect x="326.5" y="306.28" width="3.8" height="3.8" fill="#fff" stroke="#000" stroke-width="0.8"/>
<path d="M324.4 312.35L326.58 316.38L322.21 316.38Z" fill="#fff" stroke="#000" stroke-width="0.8" />
<rect x="326.5" y="314.05" width="3.8" height="3.8" fill="#fff" stroke="#000" stroke-width="0.8"/>
<path d="M294.4 271.7V268.2H326.4V282.2" fill="none" stroke="#000" stroke-width="1.4" />
<path d="M294.4 284.6V281H315.9V287.6" fill="none" stroke="#000" stroke-width="1.4" />
<path d="M294.4 305.6V295.1H306.6V298.6" fill="none" stroke="#000" stroke-width="1.4" />
<text x="310" y="267.32" font-size="9" font-weight="bold" text-anchor="middle">**</text>
<text x="305.4" y="281.42" font-size="9" font-weight="bold" text-anchor="middle">**</text>
<text x="300.7" y="295.62" font-size="9" font-weight="bold" text-anchor="middle">**</text>
<line x1="364.7" y1="275.8" x2="364.7" y2="353.5" stroke="#000" stroke-width="1.5" />
<line x1="360.1" y1="353.5" x2="364.7" y2="353.5" stroke="#000" stroke-width="1.5" />
<text x="358.5" y="357.26" font-size="10.9" font-weight="bold" text-anchor="end">0</text>
<line x1="360.1" y1="327.6" x2="364.7" y2="327.6" stroke="#000" stroke-width="1.5" />
<text x="358.5" y="331.36" font-size="10.9" font-weight="bold" text-anchor="end">1</text>
<line x1="360.1" y1="301.7" x2="364.7" y2="301.7" stroke="#000" stroke-width="1.5" />
<text x="358.5" y="305.46" font-size="10.9" font-weight="bold" text-anchor="end">2</text>
<line x1="360.1" y1="275.8" x2="364.7" y2="275.8" stroke="#000" stroke-width="1.5" />
<text x="358.5" y="279.56" font-size="10.9" font-weight="bold" text-anchor="end">3</text>
<line x1="362.1" y1="340.55" x2="364.7" y2="340.55" stroke="#000" stroke-width="1.5" />
<line x1="362.1" y1="314.65" x2="364.7" y2="314.65" stroke="#000" stroke-width="1.5" />
<line x1="362.1" y1="288.75" x2="364.7" y2="288.75" stroke="#000" stroke-width="1.5" />
<line x1="364.7" y1="353.5" x2="412.9" y2="353.5" stroke="#000" stroke-width="1.5" />
<line x1="373" y1="353.5" x2="373" y2="358" stroke="#000" stroke-width="1.5" />
<line x1="383.6" y1="353.5" x2="383.6" y2="358" stroke="#000" stroke-width="1.5" />
<line x1="394.2" y1="353.5" x2="394.2" y2="358" stroke="#000" stroke-width="1.5" />
<line x1="404.9" y1="353.5" x2="404.9" y2="358" stroke="#000" stroke-width="1.5" />
<rect x="369.1" y="327.6" width="7.8" height="25.9" fill="#000" />
<line x1="373" y1="327.6" x2="373" y2="325.53" stroke="#000" stroke-width="1" />
<line x1="370.5" y1="325.53" x2="375.5" y2="325.53" stroke="#000" stroke-width="1" />
<rect x="379.7" y="303" width="7.8" height="50.5" fill="#a9a9a9" />
<line x1="383.6" y1="303" x2="383.6" y2="297.81" stroke="#a9a9a9" stroke-width="1" />
<line x1="381.1" y1="297.81" x2="386.1" y2="297.81" stroke="#a9a9a9" stroke-width="1" />
<rect x="390.3" y="299.11" width="7.8" height="54.39" fill="#9bc9fe" />
<line x1="394.2" y1="299.11" x2="394.2" y2="296.52" stroke="#9bc9fe" stroke-width="1" />
<line x1="391.7" y1="296.52" x2="396.7" y2="296.52" stroke="#9bc9fe" stroke-width="1" />
<rect x="401" y="297.81" width="7.8" height="55.69" fill="#0533fe" />
<line x1="404.9" y1="297.81" x2="404.9" y2="290.05" stroke="#0533fe" stroke-width="1" />
<line x1="402.4" y1="290.05" x2="407.4" y2="290.05" stroke="#0533fe" stroke-width="1" />
<path d="M370.5 324L372.69 328.03L368.31 328.03Z" fill="#fff" stroke="#000" stroke-width="0.8" />
<rect x="373.6" y="325.7" width="3.8" height="3.8" fill="#fff" stroke="#000" stroke-width="0.8"/>
<path d="M373 329.19L375.19 333.21L370.81 333.21Z" fill="#fff" stroke="#000" stroke-width="0.8" />
<path d="M381.6 295.51L383.79 299.54L379.42 299.54Z" fill="#fff" stroke="#000" stroke-width="0.8" />
<path d="M385.6 294.22L387.79 298.25L383.42 298.25Z" fill="#fff" stroke="#000" stroke-width="0.8" />
<rect x="379.7" y="306.28" width="3.8" height="3.8" fill="#fff" stroke="#000" stroke-width="0.8"/>
<rect x="383.7" y="303.69" width="3.8" height="3.8" fill="#fff" stroke="#000" stroke-width="0.8"/>
<rect x="390.3" y="295.92" width="3.8" height="3.8" fill="#fff" stroke="#000" stroke-width="0.8"/>
<rect x="394.3" y="297.21" width="3.8" height="3.8" fill="#fff" stroke="#000" stroke-width="0.8"/>
<path d="M394.2 299.4L396.38 303.43L392.01 303.43Z" fill="#fff" stroke="#000" stroke-width="0.8" />
<rect x="403" y="286.85" width="3.8" height="3.8" fill="#fff" stroke="#000" stroke-width="0.8"/>
<path d="M404.9 292.93L407.08 296.95L402.71 296.95Z" fill="#fff" stroke="#000" stroke-width="0.8" />
<rect x="403" y="298.51" width="3.8" height="3.8" fill="#fff" stroke="#000" stroke-width="0.8"/>
<path d="M404.9 305.88L407.08 309.9L402.71 309.9Z" fill="#fff" stroke="#000" stroke-width="0.8" />
<path d="M372.6 261.2V257.7H405.7V264.7" fill="none" stroke="#000" stroke-width="1.4" />
<path d="M372.6 275.8V272.9H394V278.3" fill="none" stroke="#000" stroke-width="1.4" />
<path d="M372.6 299.3V288.1H383.1V290.4" fill="none" stroke="#000" stroke-width="1.4" />
<text x="388.9" y="256.42" font-size="9" font-weight="bold" text-anchor="middle">****</text>
<text x="383.1" y="272.22" font-size="9" font-weight="bold" text-anchor="middle">****</text>
<text x="378.9" y="287.42" font-size="9" font-weight="bold" text-anchor="middle">***</text>
<line x1="439.9" y1="275.8" x2="439.9" y2="353.5" stroke="#000" stroke-width="1.5" />
<line x1="435.3" y1="353.5" x2="439.9" y2="353.5" stroke="#000" stroke-width="1.5" />
<text x="433.7" y="357.26" font-size="10.9" font-weight="bold" text-anchor="end">0</text>
<line x1="435.3" y1="327.6" x2="439.9" y2="327.6" stroke="#000" stroke-width="1.5" />
<text x="433.7" y="331.36" font-size="10.9" font-weight="bold" text-anchor="end">1</text>
<line x1="435.3" y1="301.7" x2="439.9" y2="301.7" stroke="#000" stroke-width="1.5" />
<text x="433.7" y="305.46" font-size="10.9" font-weight="bold" text-anchor="end">2</text>
<line x1="435.3" y1="275.8" x2="439.9" y2="275.8" stroke="#000" stroke-width="1.5" />
<text x="433.7" y="279.56" font-size="10.9" font-weight="bold" text-anchor="end">3</text>
<line x1="437.3" y1="340.55" x2="439.9" y2="340.55" stroke="#000" stroke-width="1.5" />
<line x1="437.3" y1="314.65" x2="439.9" y2="314.65" stroke="#000" stroke-width="1.5" />
<line x1="437.3" y1="288.75" x2="439.9" y2="288.75" stroke="#000" stroke-width="1.5" />
<line x1="439.9" y1="353.5" x2="487.3" y2="353.5" stroke="#000" stroke-width="1.5" />
<line x1="447.3" y1="353.5" x2="447.3" y2="358" stroke="#000" stroke-width="1.5" />
<line x1="458" y1="353.5" x2="458" y2="358" stroke="#000" stroke-width="1.5" />
<line x1="468.6" y1="353.5" x2="468.6" y2="358" stroke="#000" stroke-width="1.5" />
<line x1="479.3" y1="353.5" x2="479.3" y2="358" stroke="#000" stroke-width="1.5" />
<rect x="443.4" y="328.89" width="7.8" height="24.61" fill="#000" />
<line x1="447.3" y1="328.89" x2="447.3" y2="326.82" stroke="#000" stroke-width="1" />
<line x1="444.8" y1="326.82" x2="449.8" y2="326.82" stroke="#000" stroke-width="1" />
<rect x="454.1" y="309.47" width="7.8" height="44.03" fill="#a9a9a9" />
<line x1="458" y1="309.47" x2="458" y2="305.59" stroke="#a9a9a9" stroke-width="1" />
<line x1="455.5" y1="305.59" x2="460.5" y2="305.59" stroke="#a9a9a9" stroke-width="1" />
<rect x="464.7" y="291.34" width="7.8" height="62.16" fill="#9bc9fe" />
<line x1="468.6" y1="291.34" x2="468.6" y2="288.23" stroke="#9bc9fe" stroke-width="1" />
<line x1="466.1" y1="288.23" x2="471.1" y2="288.23" stroke="#9bc9fe" stroke-width="1" />
<rect x="475.4" y="287.46" width="7.8" height="66.04" fill="#0533fe" />
<line x1="479.3" y1="287.46" x2="479.3" y2="275.8" stroke="#0533fe" stroke-width="1" />
<line x1="476.8" y1="275.8" x2="481.8" y2="275.8" stroke="#0533fe" stroke-width="1" />
<rect x="443.4" y="325.7" width="3.8" height="3.8" fill="#fff" stroke="#000" stroke-width="0.8"/>
<path d="M449.3 324L451.49 328.03L447.12 328.03Z" fill="#fff" stroke="#000" stroke-width="0.8" />
<rect x="445.4" y="328.29" width="3.8" height="3.8" fill="#fff" stroke="#000" stroke-width="0.8"/>
<rect x="457.1" y="301.1" width="3.8" height="3.8" fill="#fff" stroke="#000" stroke-width="0.8"/>
<rect x="454.1" y="306.28" width="3.8" height="3.8" fill="#fff" stroke="#000" stroke-width="0.8"/>
<rect x="458.1" y="307.57" width="3.8" height="3.8" fill="#fff" stroke="#000" stroke-width="0.8"/>
<path d="M458 311.06L460.19 315.08L455.81 315.08Z" fill="#fff" stroke="#000" stroke-width="0.8" />
<path d="M466.6 286.45L468.79 290.48L464.42 290.48Z" fill="#fff" stroke="#000" stroke-width="0.8" />
<rect x="468.7" y="285.56" width="3.8" height="3.8" fill="#fff" stroke="#000" stroke-width="0.8"/>
<rect x="466.7" y="293.33" width="3.8" height="3.8" fill="#fff" stroke="#000" stroke-width="0.8"/>
<path d="M468.6 299.4L470.79 303.43L466.42 303.43Z" fill="#fff" stroke="#000" stroke-width="0.8" />
<rect x="477.4" y="273.9" width="3.8" height="3.8" fill="#fff" stroke="#000" stroke-width="0.8"/>
<path d="M477.3 282.56L479.49 286.59L475.12 286.59Z" fill="#fff" stroke="#000" stroke-width="0.8" />
<rect x="479.4" y="285.56" width="3.8" height="3.8" fill="#fff" stroke="#000" stroke-width="0.8"/>
<path d="M479.3 300.69L481.49 304.72L477.12 304.72Z" fill="#fff" stroke="#000" stroke-width="0.8" />
<path d="M446.6 264.5V261.2H480V268.2" fill="none" stroke="#000" stroke-width="1.4" />
<path d="M446.6 280V276.9H468.8V282.2" fill="none" stroke="#000" stroke-width="1.4" />
<path d="M446.6 304.4V294.4H458.8V296.2" fill="none" stroke="#000" stroke-width="1.4" />
<text x="463.7" y="259.42" font-size="9" font-weight="bold" text-anchor="middle">****</text>
<text x="457.8" y="275.32" font-size="9" font-weight="bold" text-anchor="middle">****</text>
<text x="452.5" y="292.62" font-size="9" font-weight="bold" text-anchor="middle">**</text>
<line x1="287.2" y1="406.3" x2="287.2" y2="483.4" stroke="#000" stroke-width="1.5" />
<line x1="282.6" y1="483.4" x2="287.2" y2="483.4" stroke="#000" stroke-width="1.5" />
<text x="281" y="487.16" font-size="10.9" font-weight="bold" text-anchor="end">0</text>
<line x1="282.6" y1="457.7" x2="287.2" y2="457.7" stroke="#000" stroke-width="1.5" />
<text x="281" y="461.46" font-size="10.9" font-weight="bold" text-anchor="end">1</text>
<line x1="282.6" y1="432" x2="287.2" y2="432" stroke="#000" stroke-width="1.5" />
<text x="281" y="435.76" font-size="10.9" font-weight="bold" text-anchor="end">2</text>
<line x1="282.6" y1="406.3" x2="287.2" y2="406.3" stroke="#000" stroke-width="1.5" />
<text x="281" y="410.06" font-size="10.9" font-weight="bold" text-anchor="end">3</text>
<line x1="284.6" y1="470.55" x2="287.2" y2="470.55" stroke="#000" stroke-width="1.5" />
<line x1="284.6" y1="444.85" x2="287.2" y2="444.85" stroke="#000" stroke-width="1.5" />
<line x1="284.6" y1="419.15" x2="287.2" y2="419.15" stroke="#000" stroke-width="1.5" />
<line x1="287.2" y1="483.4" x2="334.4" y2="483.4" stroke="#000" stroke-width="1.5" />
<line x1="295" y1="483.4" x2="295" y2="487.9" stroke="#000" stroke-width="1.5" />
<line x1="305.4" y1="483.4" x2="305.4" y2="487.9" stroke="#000" stroke-width="1.5" />
<line x1="315.9" y1="483.4" x2="315.9" y2="487.9" stroke="#000" stroke-width="1.5" />
<line x1="326.4" y1="483.4" x2="326.4" y2="487.9" stroke="#000" stroke-width="1.5" />
<rect x="291.1" y="461.55" width="7.8" height="21.85" fill="#000" />
<line x1="295" y1="461.55" x2="295" y2="456.41" stroke="#000" stroke-width="1" />
<line x1="292.5" y1="456.41" x2="297.5" y2="456.41" stroke="#000" stroke-width="1" />
<rect x="301.5" y="442.28" width="7.8" height="41.12" fill="#a9a9a9" />
<line x1="305.4" y1="442.28" x2="305.4" y2="434.57" stroke="#a9a9a9" stroke-width="1" />
<line x1="302.9" y1="434.57" x2="307.9" y2="434.57" stroke="#a9a9a9" stroke-width="1" />
<rect x="312" y="435.85" width="7.8" height="47.55" fill="#9bc9fe" />
<line x1="315.9" y1="435.85" x2="315.9" y2="433.28" stroke="#9bc9fe" stroke-width="1" />
<line x1="313.4" y1="433.28" x2="318.4" y2="433.28" stroke="#9bc9fe" stroke-width="1" />
<rect x="322.5" y="433.28" width="7.8" height="50.12" fill="#0533fe" />
<line x1="326.4" y1="433.28" x2="326.4" y2="432" stroke="#0533fe" stroke-width="1" />
<line x1="323.9" y1="432" x2="328.9" y2="432" stroke="#0533fe" stroke-width="1" />
<rect x="295.1" y="453.23" width="3.8" height="3.8" fill="#fff" stroke="#000" stroke-width="0.8"/>
<path d="M293 456.68L295.19 460.71L290.81 460.71Z" fill="#fff" stroke="#000" stroke-width="0.8" />
<path d="M297 459.25L299.19 463.28L294.81 463.28Z" fill="#fff" stroke="#000" stroke-width="0.8" />
<rect x="293.1" y="460.94" width="3.8" height="3.8" fill="#fff" stroke="#000" stroke-width="0.8"/>
<rect x="303.5" y="431.38" width="3.8" height="3.8" fill="#fff" stroke="#000" stroke-width="0.8"/>
<path d="M303.4 441.26L305.58 445.29L301.21 445.29Z" fill="#fff" stroke="#000" stroke-width="0.8" />
<path d="M307.4 442.55L309.58 446.57L305.21 446.57Z" fill="#fff" stroke="#000" stroke-width="0.8" />
<rect x="305.5" y="439.1" width="3.8" height="3.8" fill="#fff" stroke="#000" stroke-width="0.8"/>
<rect x="312" y="431.38" width="3.8" height="3.8" fill="#fff" stroke="#000" stroke-width="0.8"/>
<path d="M317.9 432.27L320.08 436.3L315.71 436.3Z" fill="#fff" stroke="#000" stroke-width="0.8" />
<path d="M315.9 443.83L318.08 447.86L313.71 447.86Z" fill="#fff" stroke="#000" stroke-width="0.8" />
<rect x="322.5" y="428.81" width="3.8" height="3.8" fill="#fff" stroke="#000" stroke-width="0.8"/>
<path d="M328.4 429.7L330.58 433.73L326.21 433.73Z" fill="#fff" stroke="#000" stroke-width="0.8" />
<rect x="324.5" y="432.67" width="3.8" height="3.8" fill="#fff" stroke="#000" stroke-width="0.8"/>
<path d="M294.4 396V393.4H326.9V400.4" fill="none" stroke="#000" stroke-width="1.4" />
<path d="M294.4 410V407.4H315.4V413.9" fill="none" stroke="#000" stroke-width="1.4" />
<path d="M294.4 431.9V423.7H305.4V427.2" fill="none" stroke="#000" stroke-width="1.4" />
<text x="311.2" y="393.22" font-size="9" font-weight="bold" text-anchor="middle">****</text>
<text x="305" y="407.72" font-size="9" font-weight="bold" text-anchor="middle">***</text>
<text x="300.3" y="423.62" font-size="9" font-weight="bold" text-anchor="middle">**</text>
<line x1="365.1" y1="406.2" x2="365.1" y2="483.4" stroke="#000" stroke-width="1.5" />
<line x1="360.5" y1="483.4" x2="365.1" y2="483.4" stroke="#000" stroke-width="1.5" />
<text x="358.9" y="487.16" font-size="10.9" font-weight="bold" text-anchor="end">0</text>
<line x1="360.5" y1="464.1" x2="365.1" y2="464.1" stroke="#000" stroke-width="1.5" />
<text x="358.9" y="467.86" font-size="10.9" font-weight="bold" text-anchor="end">1</text>
<line x1="360.5" y1="444.8" x2="365.1" y2="444.8" stroke="#000" stroke-width="1.5" />
<text x="358.9" y="448.56" font-size="10.9" font-weight="bold" text-anchor="end">2</text>
<line x1="360.5" y1="425.5" x2="365.1" y2="425.5" stroke="#000" stroke-width="1.5" />
<text x="358.9" y="429.26" font-size="10.9" font-weight="bold" text-anchor="end">3</text>
<line x1="360.5" y1="406.2" x2="365.1" y2="406.2" stroke="#000" stroke-width="1.5" />
<text x="358.9" y="409.96" font-size="10.9" font-weight="bold" text-anchor="end">4</text>
<line x1="362.5" y1="473.75" x2="365.1" y2="473.75" stroke="#000" stroke-width="1.5" />
<line x1="362.5" y1="454.45" x2="365.1" y2="454.45" stroke="#000" stroke-width="1.5" />
<line x1="362.5" y1="435.15" x2="365.1" y2="435.15" stroke="#000" stroke-width="1.5" />
<line x1="362.5" y1="415.85" x2="365.1" y2="415.85" stroke="#000" stroke-width="1.5" />
<line x1="365.1" y1="483.4" x2="412.6" y2="483.4" stroke="#000" stroke-width="1.5" />
<line x1="373.1" y1="483.4" x2="373.1" y2="487.9" stroke="#000" stroke-width="1.5" />
<line x1="383.8" y1="483.4" x2="383.8" y2="487.9" stroke="#000" stroke-width="1.5" />
<line x1="394.2" y1="483.4" x2="394.2" y2="487.9" stroke="#000" stroke-width="1.5" />
<line x1="404.6" y1="483.4" x2="404.6" y2="487.9" stroke="#000" stroke-width="1.5" />
<rect x="369.2" y="466.03" width="7.8" height="17.37" fill="#000" />
<line x1="373.1" y1="466.03" x2="373.1" y2="460.24" stroke="#000" stroke-width="1" />
<line x1="370.6" y1="460.24" x2="375.6" y2="460.24" stroke="#000" stroke-width="1" />
<rect x="379.9" y="424.53" width="7.8" height="58.87" fill="#a9a9a9" />
<line x1="383.8" y1="424.53" x2="383.8" y2="417.78" stroke="#a9a9a9" stroke-width="1" />
<line x1="381.3" y1="417.78" x2="386.3" y2="417.78" stroke="#a9a9a9" stroke-width="1" />
<rect x="390.3" y="467" width="7.8" height="16.4" fill="#9bc9fe" />
<line x1="394.2" y1="467" x2="394.2" y2="465.06" stroke="#9bc9fe" stroke-width="1" />
<line x1="391.7" y1="465.06" x2="396.7" y2="465.06" stroke="#9bc9fe" stroke-width="1" />
<rect x="400.7" y="463.13" width="7.8" height="20.26" fill="#0533fe" />
<line x1="404.6" y1="463.13" x2="404.6" y2="461.2" stroke="#0533fe" stroke-width="1" />
<line x1="402.1" y1="461.2" x2="407.1" y2="461.2" stroke="#0533fe" stroke-width="1" />
<rect x="371.2" y="455.44" width="3.8" height="3.8" fill="#fff" stroke="#000" stroke-width="0.8"/>
<rect x="368.7" y="462.2" width="3.8" height="3.8" fill="#fff" stroke="#000" stroke-width="0.8"/>
<path d="M375.6 462.76L377.79 466.79L373.42 466.79Z" fill="#fff" stroke="#000" stroke-width="0.8" />
<path d="M373.1 466.62L375.29 470.65L370.92 470.65Z" fill="#fff" stroke="#000" stroke-width="0.8" />
<rect x="381.9" y="415.88" width="3.8" height="3.8" fill="#fff" stroke="#000" stroke-width="0.8"/>
<path d="M383.8 419.34L385.99 423.37L381.62 423.37Z" fill="#fff" stroke="#000" stroke-width="0.8" />
<path d="M383.8 424.16L385.99 428.19L381.62 428.19Z" fill="#fff" stroke="#000" stroke-width="0.8" />
<rect x="381.9" y="430.36" width="3.8" height="3.8" fill="#fff" stroke="#000" stroke-width="0.8"/>
<rect x="390.3" y="463.17" width="3.8" height="3.8" fill="#fff" stroke="#000" stroke-width="0.8"/>
<rect x="394.3" y="464.13" width="3.8" height="3.8" fill="#fff" stroke="#000" stroke-width="0.8"/>
<path d="M392.2 466.62L394.38 470.65L390.01 470.65Z" fill="#fff" stroke="#000" stroke-width="0.8" />
<rect x="402.7" y="458.34" width="3.8" height="3.8" fill="#fff" stroke="#000" stroke-width="0.8"/>
<rect x="404.7" y="462.2" width="3.8" height="3.8" fill="#fff" stroke="#000" stroke-width="0.8"/>
<path d="M402.6 464.69L404.79 468.72L400.42 468.72Z" fill="#fff" stroke="#000" stroke-width="0.8" />
<path d="M372.4 396.2V393.4H399.2V450.6" fill="none" stroke="#000" stroke-width="1.4" />
<path d="M372.4 441.2V406.7H383.5V410.9" fill="none" stroke="#000" stroke-width="1.4" />
<text x="385.9" y="390.67" font-size="9.5" text-anchor="middle" font-style="italic">ns</text>
<text x="377.7" y="407.22" font-size="9" font-weight="bold" text-anchor="middle">****</text>
<line x1="393.6" y1="450.6" x2="403.9" y2="450.6" stroke="#000" stroke-width="1.2" />
<line x1="439.9" y1="406.3" x2="439.9" y2="483.4" stroke="#000" stroke-width="1.5" />
<line x1="435.3" y1="483.4" x2="439.9" y2="483.4" stroke="#000" stroke-width="1.5" />
<text x="433.7" y="487.16" font-size="10.9" font-weight="bold" text-anchor="end">0</text>
<line x1="435.3" y1="457.7" x2="439.9" y2="457.7" stroke="#000" stroke-width="1.5" />
<text x="433.7" y="461.46" font-size="10.9" font-weight="bold" text-anchor="end">1</text>
<line x1="435.3" y1="432" x2="439.9" y2="432" stroke="#000" stroke-width="1.5" />
<text x="433.7" y="435.76" font-size="10.9" font-weight="bold" text-anchor="end">2</text>
<line x1="435.3" y1="406.3" x2="439.9" y2="406.3" stroke="#000" stroke-width="1.5" />
<text x="433.7" y="410.06" font-size="10.9" font-weight="bold" text-anchor="end">3</text>
<line x1="437.3" y1="470.55" x2="439.9" y2="470.55" stroke="#000" stroke-width="1.5" />
<line x1="437.3" y1="444.85" x2="439.9" y2="444.85" stroke="#000" stroke-width="1.5" />
<line x1="437.3" y1="419.15" x2="439.9" y2="419.15" stroke="#000" stroke-width="1.5" />
<line x1="439.9" y1="483.4" x2="487.6" y2="483.4" stroke="#000" stroke-width="1.5" />
<line x1="447.6" y1="483.4" x2="447.6" y2="487.9" stroke="#000" stroke-width="1.5" />
<line x1="458.3" y1="483.4" x2="458.3" y2="487.9" stroke="#000" stroke-width="1.5" />
<line x1="468.9" y1="483.4" x2="468.9" y2="487.9" stroke="#000" stroke-width="1.5" />
<line x1="479.6" y1="483.4" x2="479.6" y2="487.9" stroke="#000" stroke-width="1.5" />
<rect x="443.7" y="458.98" width="7.8" height="24.42" fill="#000" />
<line x1="447.6" y1="458.98" x2="447.6" y2="456.41" stroke="#000" stroke-width="1" />
<line x1="445.1" y1="456.41" x2="450.1" y2="456.41" stroke="#000" stroke-width="1" />
<rect x="454.4" y="457.7" width="7.8" height="25.7" fill="#a9a9a9" />
<line x1="458.3" y1="457.7" x2="458.3" y2="456.41" stroke="#a9a9a9" stroke-width="1" />
<line x1="455.8" y1="456.41" x2="460.8" y2="456.41" stroke="#a9a9a9" stroke-width="1" />
<rect x="465" y="455.13" width="7.8" height="28.27" fill="#9bc9fe" />
<line x1="468.9" y1="455.13" x2="468.9" y2="449.99" stroke="#9bc9fe" stroke-width="1" />
<line x1="466.4" y1="449.99" x2="471.4" y2="449.99" stroke="#9bc9fe" stroke-width="1" />
<rect x="475.7" y="456.41" width="7.8" height="26.99" fill="#0533fe" />
<line x1="479.6" y1="456.41" x2="479.6" y2="452.56" stroke="#0533fe" stroke-width="1" />
<line x1="477.1" y1="452.56" x2="482.1" y2="452.56" stroke="#0533fe" stroke-width="1" />
<path d="M447.6 451.54L449.79 455.57L445.42 455.57Z" fill="#fff" stroke="#000" stroke-width="0.8" />
<path d="M445.6 456.68L447.79 460.71L443.42 460.71Z" fill="#fff" stroke="#000" stroke-width="0.8" />
<rect x="447.7" y="457.08" width="3.8" height="3.8" fill="#fff" stroke="#000" stroke-width="0.8"/>
<rect x="448.2" y="454.51" width="3.8" height="3.8" fill="#fff" stroke="#000" stroke-width="0.8"/>
<rect x="454.4" y="455.8" width="3.8" height="3.8" fill="#fff" stroke="#000" stroke-width="0.8"/>
<rect x="458.4" y="455.8" width="3.8" height="3.8" fill="#fff" stroke="#000" stroke-width="0.8"/>
<path d="M458.3 456.68L460.49 460.71L456.12 460.71Z" fill="#fff" stroke="#000" stroke-width="0.8" />
<path d="M470.9 448.97L473.08 453L468.71 453Z" fill="#fff" stroke="#000" stroke-width="0.8" />
<rect x="465" y="450.66" width="3.8" height="3.8" fill="#fff" stroke="#000" stroke-width="0.8"/>
<rect x="467" y="454.51" width="3.8" height="3.8" fill="#fff" stroke="#000" stroke-width="0.8"/>
<path d="M468.9 460.54L471.08 464.56L466.71 464.56Z" fill="#fff" stroke="#000" stroke-width="0.8" />
<rect x="477.7" y="449.38" width="3.8" height="3.8" fill="#fff" stroke="#000" stroke-width="0.8"/>
<path d="M477.6 452.83L479.79 456.86L475.42 456.86Z" fill="#fff" stroke="#000" stroke-width="0.8" />
<rect x="479.7" y="454.51" width="3.8" height="3.8" fill="#fff" stroke="#000" stroke-width="0.8"/>
<path d="M479.6 460.54L481.79 464.56L477.42 464.56Z" fill="#fff" stroke="#000" stroke-width="0.8" />
<path d="M447.1 424.2V420.2H474.2V441.2" fill="none" stroke="#000" stroke-width="1.4" />
<path d="M447.1 444.7V441.2H458.3V444.7" fill="none" stroke="#000" stroke-width="1.4" />
<text x="461.8" y="417.97" font-size="9.5" text-anchor="middle" font-style="italic">ns</text>
<text x="453.6" y="438.37" font-size="9.5" text-anchor="middle" font-style="italic">ns</text>
<line x1="468.8" y1="441.2" x2="480.5" y2="441.2" stroke="#000" stroke-width="1.2" />
<text x="294.9" y="498.83" font-size="10" text-anchor="middle">+</text>
<text x="305.4" y="498.83" font-size="10" text-anchor="middle">-</text>
<text x="315.4" y="498.83" font-size="10" text-anchor="middle">+</text>
<text x="326.4" y="498.83" font-size="10" text-anchor="middle">+</text>
<text x="294.9" y="509.33" font-size="10" text-anchor="middle">+</text>
<text x="305.4" y="509.33" font-size="10" text-anchor="middle">+</text>
<text x="315.4" y="509.33" font-size="10" text-anchor="middle">-</text>
<text x="326.4" y="509.33" font-size="10" text-anchor="middle">+</text>
<text x="294.9" y="520.73" font-size="10" text-anchor="middle">-</text>
<text x="305.4" y="520.73" font-size="10" text-anchor="middle">-</text>
<text x="315.4" y="520.73" font-size="10" text-anchor="middle">-</text>
<text x="326.4" y="520.73" font-size="10" text-anchor="middle">+</text>
<text x="372.6" y="498.83" font-size="10" text-anchor="middle">+</text>
<text x="383.1" y="498.83" font-size="10" text-anchor="middle">-</text>
<text x="393.6" y="498.83" font-size="10" text-anchor="middle">+</text>
<text x="404.6" y="498.83" font-size="10" text-anchor="middle">+</text>
<text x="372.6" y="509.33" font-size="10" text-anchor="middle">+</text>
<text x="383.1" y="509.33" font-size="10" text-anchor="middle">+</text>
<text x="393.6" y="509.33" font-size="10" text-anchor="middle">-</text>
<text x="404.6" y="509.33" font-size="10" text-anchor="middle">+</text>
<text x="372.6" y="520.73" font-size="10" text-anchor="middle">-</text>
<text x="383.1" y="520.73" font-size="10" text-anchor="middle">-</text>
<text x="393.6" y="520.73" font-size="10" text-anchor="middle">-</text>
<text x="404.6" y="520.73" font-size="10" text-anchor="middle">+</text>
<text x="447.1" y="498.83" font-size="10" text-anchor="middle">+</text>
<text x="458.3" y="498.83" font-size="10" text-anchor="middle">-</text>
<text x="468.8" y="498.83" font-size="10" text-anchor="middle">+</text>
<text x="479.3" y="498.83" font-size="10" text-anchor="middle">+</text>
<text x="447.1" y="509.33" font-size="10" text-anchor="middle">+</text>
<text x="458.3" y="509.33" font-size="10" text-anchor="middle">+</text>
<text x="468.8" y="509.33" font-size="10" text-anchor="middle">-</text>
<text x="479.3" y="509.33" font-size="10" text-anchor="middle">+</text>
<text x="447.1" y="520.73" font-size="10" text-anchor="middle">-</text>
<text x="458.3" y="520.73" font-size="10" text-anchor="middle">-</text>
<text x="468.8" y="520.73" font-size="10" text-anchor="middle">-</text>
<text x="479.3" y="520.73" font-size="10" text-anchor="middle">+</text>
<text x="488.7" y="498.9" font-size="9.6">: Gln</text>
<text x="488.7" y="509.4" font-size="9.6">: Asn</text>
<text x="488.7" y="520.8" font-size="9.6">: ASNase</text>
<text x="503.5" y="243" font-size="16" font-weight="bold">f.</text>
<text x="526.1" y="244.4" font-size="11.6">[U-<tspan dy="-4.2" font-size="8.12">13</tspan><tspan dy="4.2">C]-Glc</tspan></text>
<path d="M589.76 240.8H603.26M595.26 236L603.76 240.8L595.26 245.6" fill="none" stroke="#000" stroke-width="1.45"/>
<text x="608.76" y="244.4" font-size="11.6">Serine (M+3)</text>
<line x1="563.2" y1="279" x2="563.2" y2="396.5" stroke="#000" stroke-width="1.5" />
<line x1="558.7" y1="396.5" x2="563.2" y2="396.5" stroke="#000" stroke-width="1.5" />
<text x="557.1" y="400.09" font-size="10.4" font-weight="bold" text-anchor="end">0</text>
<line x1="558.7" y1="373" x2="563.2" y2="373" stroke="#000" stroke-width="1.5" />
<text x="557.1" y="376.59" font-size="10.4" font-weight="bold" text-anchor="end" textLength="27" lengthAdjust="spacingAndGlyphs">1×10<tspan dy="-4.37" font-size="7.07">6</tspan></text>
<line x1="558.7" y1="349.5" x2="563.2" y2="349.5" stroke="#000" stroke-width="1.5" />
<text x="557.1" y="353.09" font-size="10.4" font-weight="bold" text-anchor="end" textLength="27" lengthAdjust="spacingAndGlyphs">2×10<tspan dy="-4.37" font-size="7.07">6</tspan></text>
<line x1="558.7" y1="326" x2="563.2" y2="326" stroke="#000" stroke-width="1.5" />
<text x="557.1" y="329.59" font-size="10.4" font-weight="bold" text-anchor="end" textLength="27" lengthAdjust="spacingAndGlyphs">3×10<tspan dy="-4.37" font-size="7.07">6</tspan></text>
<line x1="558.7" y1="302.5" x2="563.2" y2="302.5" stroke="#000" stroke-width="1.5" />
<text x="557.1" y="306.09" font-size="10.4" font-weight="bold" text-anchor="end" textLength="27" lengthAdjust="spacingAndGlyphs">4×10<tspan dy="-4.37" font-size="7.07">6</tspan></text>
<line x1="558.7" y1="279" x2="563.2" y2="279" stroke="#000" stroke-width="1.5" />
<text x="557.1" y="282.59" font-size="10.4" font-weight="bold" text-anchor="end" textLength="27" lengthAdjust="spacingAndGlyphs">5×10<tspan dy="-4.37" font-size="7.07">6</tspan></text>
<line x1="563.2" y1="396.5" x2="638.2" y2="396.5" stroke="#000" stroke-width="1.5" />
<line x1="578" y1="396.5" x2="578" y2="401.5" stroke="#000" stroke-width="1.5" />
<line x1="600.4" y1="396.5" x2="600.4" y2="401.5" stroke="#000" stroke-width="1.5" />
<line x1="623.2" y1="396.5" x2="623.2" y2="401.5" stroke="#000" stroke-width="1.5" />
<rect x="570.3" y="375.7" width="15.4" height="20.8" fill="#ff2400" />
<rect x="592.7" y="342" width="15.4" height="54.5" fill="#ff2400" />
<rect x="615.5" y="324.9" width="15.4" height="71.6" fill="#ff2400" />
<line x1="600.4" y1="328" x2="600.4" y2="342" stroke="#ff2400" stroke-width="1.1" />
<line x1="596.4" y1="328" x2="604.4" y2="328" stroke="#ff2400" stroke-width="1.1" />
<line x1="623.2" y1="312.3" x2="623.2" y2="324.9" stroke="#ff2400" stroke-width="1.1" />
<line x1="619.2" y1="312.3" x2="627.2" y2="312.3" stroke="#ff2400" stroke-width="1.1" />
<circle cx="600.4" cy="322.4" r="2.4" fill="#73b1f8" stroke="none" stroke-width="0"/>
<circle cx="595.2" cy="328" r="2.4" fill="#73b1f8" stroke="none" stroke-width="0"/>
<circle cx="605.7" cy="330.1" r="2.4" fill="#73b1f8" stroke="none" stroke-width="0"/>
<circle cx="600.4" cy="342" r="2.4" fill="#73b1f8" stroke="none" stroke-width="0"/>
<circle cx="595.2" cy="350.8" r="2.4" fill="#73b1f8" stroke="none" stroke-width="0"/>
<circle cx="605.7" cy="349" r="2.4" fill="#73b1f8" stroke="none" stroke-width="0"/>
<circle cx="605.7" cy="355.7" r="2.4" fill="#73b1f8" stroke="none" stroke-width="0"/>
<circle cx="595.2" cy="359.9" r="2.4" fill="#73b1f8" stroke="none" stroke-width="0"/>
<circle cx="623.2" cy="302.6" r="2.4" fill="#1238f2" stroke="none" stroke-width="0"/>
<circle cx="623.2" cy="316.6" r="2.4" fill="#1238f2" stroke="none" stroke-width="0"/>
<circle cx="628.5" cy="318.4" r="2.4" fill="#1238f2" stroke="none" stroke-width="0"/>
<circle cx="623.2" cy="322.8" r="2.4" fill="#1238f2" stroke="none" stroke-width="0"/>
<circle cx="618" cy="329.8" r="2.4" fill="#1238f2" stroke="none" stroke-width="0"/>
<circle cx="628.5" cy="329.8" r="2.4" fill="#1238f2" stroke="none" stroke-width="0"/>
<circle cx="623.2" cy="334.2" r="2.4" fill="#1238f2" stroke="none" stroke-width="0"/>
<circle cx="623.2" cy="343.4" r="2.4" fill="#1238f2" stroke="none" stroke-width="0"/>
<circle cx="574.2" cy="373.6" r="2.3" fill="#000" stroke="none" stroke-width="0"/>
<circle cx="578.5" cy="371" r="2.3" fill="#000" stroke="none" stroke-width="0"/>
<circle cx="582.9" cy="373.6" r="2.3" fill="#000" stroke="none" stroke-width="0"/>
<circle cx="572.4" cy="377.1" r="2.3" fill="#000" stroke="none" stroke-width="0"/>
<circle cx="580.3" cy="378" r="2.3" fill="#000" stroke="none" stroke-width="0"/>
<circle cx="574.7" cy="382.3" r="2.3" fill="#000" stroke="none" stroke-width="0"/>
<circle cx="577.1" cy="375" r="2.3" fill="#000" stroke="none" stroke-width="0"/>
<path d="M577.4 291V268H623.2V274.4" fill="none" stroke="#000" stroke-width="1.1" />
<path d="M600.4 298.5V282.7H623.2V288.8" fill="none" stroke="#000" stroke-width="1.1" />
<path d="M577.4 355.5V305.4H600.4V311" fill="none" stroke="#000" stroke-width="1.1" />
<text x="599.9" y="265.63" font-size="10" text-anchor="middle">****</text>
<text x="611.5" y="281.43" font-size="10" text-anchor="middle">*</text>
<text x="589.3" y="303.63" font-size="10" text-anchor="middle">****</text>
<text x="523.5" y="338" font-size="9.3" font-weight="bold" text-anchor="middle" transform="rotate(-90 523.5 338)">peak area</text>
<text x="578" y="416.56" font-size="11" text-anchor="middle">+</text>
<text x="578" y="432.16" font-size="11" text-anchor="middle">-</text>
<text x="600.4" y="416.56" font-size="11" text-anchor="middle">-</text>
<text x="600.4" y="432.16" font-size="11" text-anchor="middle">-</text>
<text x="623.2" y="416.56" font-size="11" text-anchor="middle">+</text>
<text x="623.2" y="432.16" font-size="11" text-anchor="middle">+</text>
<text x="637.4" y="416.8" font-size="11.5">: Asn</text>
<text x="637.4" y="432.4" font-size="11.5">: ASNase</text>
<text x="0.5" y="547.3" font-size="16" font-weight="bold">g.</text>
<text x="19.9" y="556.8" font-size="11.6">[U-<tspan dy="-4.2" font-size="8.12">13</tspan><tspan dy="4.2">C]-Glc</tspan></text>
<path d="M83.56 553.2H97.06M89.06 548.4L97.56 553.2L89.06 558" fill="none" stroke="#000" stroke-width="1.45"/>
<text x="102.56" y="556.8" font-size="11.6">Glycine (M+2)</text>
<line x1="60.1" y1="582.4" x2="60.1" y2="699.6" stroke="#000" stroke-width="1.5" />
<line x1="55.6" y1="699.6" x2="60.1" y2="699.6" stroke="#000" stroke-width="1.5" />
<text x="54" y="703.26" font-size="10.6" font-weight="bold" text-anchor="end">0.0</text>
<line x1="55.6" y1="670.3" x2="60.1" y2="670.3" stroke="#000" stroke-width="1.5" />
<text x="54" y="673.96" font-size="10.6" font-weight="bold" text-anchor="end" textLength="35" lengthAdjust="spacingAndGlyphs">2.5×10<tspan dy="-4.45" font-size="7.21">6</tspan></text>
<line x1="55.6" y1="641" x2="60.1" y2="641" stroke="#000" stroke-width="1.5" />
<text x="54" y="644.66" font-size="10.6" font-weight="bold" text-anchor="end" textLength="35" lengthAdjust="spacingAndGlyphs">5.0×10<tspan dy="-4.45" font-size="7.21">6</tspan></text>
<line x1="55.6" y1="611.7" x2="60.1" y2="611.7" stroke="#000" stroke-width="1.5" />
<text x="54" y="615.36" font-size="10.6" font-weight="bold" text-anchor="end" textLength="35" lengthAdjust="spacingAndGlyphs">7.5×10<tspan dy="-4.45" font-size="7.21">6</tspan></text>
<line x1="55.6" y1="582.4" x2="60.1" y2="582.4" stroke="#000" stroke-width="1.5" />
<text x="54" y="586.06" font-size="10.6" font-weight="bold" text-anchor="end" textLength="35" lengthAdjust="spacingAndGlyphs">1.0×10<tspan dy="-4.45" font-size="7.21">7</tspan></text>
<line x1="57.6" y1="684.95" x2="60.1" y2="684.95" stroke="#000" stroke-width="1.5" />
<line x1="57.6" y1="655.65" x2="60.1" y2="655.65" stroke="#000" stroke-width="1.5" />
<line x1="57.6" y1="626.35" x2="60.1" y2="626.35" stroke="#000" stroke-width="1.5" />
<line x1="57.6" y1="597.05" x2="60.1" y2="597.05" stroke="#000" stroke-width="1.5" />
<line x1="60.1" y1="699.6" x2="135" y2="699.6" stroke="#000" stroke-width="1.5" />
<line x1="75.7" y1="699.6" x2="75.7" y2="704.6" stroke="#000" stroke-width="1.5" />
<line x1="97.6" y1="699.6" x2="97.6" y2="704.6" stroke="#000" stroke-width="1.5" />
<line x1="120.3" y1="699.6" x2="120.3" y2="704.6" stroke="#000" stroke-width="1.5" />
<rect x="68.2" y="654.6" width="15" height="45" fill="#ff2400" />
<rect x="90.1" y="638.7" width="15" height="60.9" fill="#ff2400" />
<rect x="112.8" y="635.4" width="15" height="64.2" fill="#ff2400" />
<line x1="97.6" y1="628.7" x2="97.6" y2="638.7" stroke="#ff2400" stroke-width="1.1" />
<line x1="93.6" y1="628.7" x2="101.6" y2="628.7" stroke="#ff2400" stroke-width="1.1" />
<line x1="120.3" y1="630.3" x2="120.3" y2="635.4" stroke="#ff2400" stroke-width="1.1" />
<line x1="116.1" y1="630.3" x2="124.5" y2="630.3" stroke="#ff2400" stroke-width="1.1" />
<circle cx="92.9" cy="629.8" r="2.4" fill="#73b1f8" stroke="none" stroke-width="0"/>
<circle cx="99.4" cy="629.8" r="2.4" fill="#73b1f8" stroke="none" stroke-width="0"/>
<circle cx="103.3" cy="634.2" r="2.4" fill="#73b1f8" stroke="none" stroke-width="0"/>
<circle cx="99.4" cy="636.4" r="2.4" fill="#73b1f8" stroke="none" stroke-width="0"/>
<circle cx="97.8" cy="642.4" r="2.4" fill="#73b1f8" stroke="none" stroke-width="0"/>
<circle cx="96.1" cy="653.3" r="2.4" fill="#73b1f8" stroke="none" stroke-width="0"/>
<circle cx="100" cy="652.8" r="2.4" fill="#73b1f8" stroke="none" stroke-width="0"/>
<circle cx="95.5" cy="632" r="2.4" fill="#73b1f8" stroke="none" stroke-width="0"/>
<circle cx="120.2" cy="626" r="2.4" fill="#1238f2" stroke="none" stroke-width="0"/>
<circle cx="114.8" cy="635.3" r="2.4" fill="#1238f2" stroke="none" stroke-width="0"/>
<circle cx="119.7" cy="635.3" r="2.4" fill="#1238f2" stroke="none" stroke-width="0"/>
<circle cx="125.7" cy="635.3" r="2.4" fill="#1238f2" stroke="none" stroke-width="0"/>
<circle cx="120.2" cy="640.2" r="2.4" fill="#1238f2" stroke="none" stroke-width="0"/>
<circle cx="120.2" cy="646.8" r="2.4" fill="#1238f2" stroke="none" stroke-width="0"/>
<circle cx="117.5" cy="637" r="2.4" fill="#1238f2" stroke="none" stroke-width="0"/>
<circle cx="123" cy="637" r="2.4" fill="#1238f2" stroke="none" stroke-width="0"/>
<circle cx="69.9" cy="651.1" r="2.3" fill="#000" stroke="none" stroke-width="0"/>
<circle cx="75.3" cy="651.7" r="2.3" fill="#000" stroke="none" stroke-width="0"/>
<circle cx="80.8" cy="653.3" r="2.3" fill="#000" stroke="none" stroke-width="0"/>
<circle cx="73.1" cy="655.5" r="2.3" fill="#000" stroke="none" stroke-width="0"/>
<circle cx="77.5" cy="656.6" r="2.3" fill="#000" stroke="none" stroke-width="0"/>
<circle cx="72.6" cy="659.9" r="2.3" fill="#000" stroke="none" stroke-width="0"/>
<circle cx="75.3" cy="658.3" r="2.3" fill="#000" stroke="none" stroke-width="0"/>
<circle cx="78.5" cy="654" r="2.3" fill="#000" stroke="none" stroke-width="0"/>
<path d="M75 608.1V585.1H121.1V591.5" fill="none" stroke="#000" stroke-width="1.1" />
<path d="M97.5 611.9V602.4H121.1V608.9" fill="none" stroke="#000" stroke-width="1.1" />
<path d="M75.2 640.7V614.4H96.3V620.1" fill="none" stroke="#000" stroke-width="1.1" />
<text x="98" y="581.03" font-size="10" text-anchor="middle">****</text>
<text x="109.7" y="598.56" font-size="11" text-anchor="middle" font-style="italic">ns</text>
<text x="86.4" y="610.03" font-size="10" text-anchor="middle">***</text>
<text x="13.8" y="641.5" font-size="10.2" font-weight="bold" text-anchor="middle" transform="rotate(-90 13.8 641.5)">peak area</text>
<text x="74.6" y="719.66" font-size="11" text-anchor="middle">+</text>
<text x="74.6" y="735.46" font-size="11" text-anchor="middle">-</text>
<text x="98.1" y="719.66" font-size="11" text-anchor="middle">-</text>
<text x="98.1" y="735.46" font-size="11" text-anchor="middle">-</text>
<text x="120.2" y="719.66" font-size="11" text-anchor="middle">+</text>
<text x="120.2" y="735.46" font-size="11" text-anchor="middle">+</text>
<text x="134.2" y="719.9" font-size="11.5">: Asn</text>
<text x="134.2" y="735.7" font-size="11.5">: ASNase</text>
<text x="207.5" y="546.1" font-size="16" font-weight="bold">h.</text>
<text x="282.6" y="544.9" font-size="11.5" text-anchor="middle">Vehicle</text>
<text x="387.9" y="544.9" font-size="11.5" text-anchor="middle" fill="#1d3cf5">ASNase</text>
<line x1="254.6" y1="553.5" x2="312.1" y2="553.5" stroke="#222" stroke-width="1.1" />
<line x1="315.4" y1="553.5" x2="460.8" y2="553.5" stroke="#222" stroke-width="1.1" />
<text x="264.5" y="566.2" font-size="9" text-anchor="middle" transform="rotate(-90 264.5 566.2)" textLength="12.7" lengthAdjust="spacingAndGlyphs">632</text>
<text x="279.45" y="566.2" font-size="9" text-anchor="middle" transform="rotate(-90 279.45 566.2)" textLength="12.7" lengthAdjust="spacingAndGlyphs">633</text>
<text x="294.4" y="566.2" font-size="9" text-anchor="middle" transform="rotate(-90 294.4 566.2)" textLength="12.7" lengthAdjust="spacingAndGlyphs">635</text>
<text x="309.35" y="566.2" font-size="9" text-anchor="middle" transform="rotate(-90 309.35 566.2)" textLength="12.7" lengthAdjust="spacingAndGlyphs">636</text>
<text x="324.3" y="566.2" font-size="9" text-anchor="middle" transform="rotate(-90 324.3 566.2)" textLength="12.7" lengthAdjust="spacingAndGlyphs">620</text>
<text x="339.25" y="566.2" font-size="9" text-anchor="middle" transform="rotate(-90 339.25 566.2)" textLength="12.7" lengthAdjust="spacingAndGlyphs">622</text>
<text x="354.2" y="566.2" font-size="9" text-anchor="middle" transform="rotate(-90 354.2 566.2)" textLength="12.7" lengthAdjust="spacingAndGlyphs">623</text>
<text x="369.15" y="566.2" font-size="9" text-anchor="middle" transform="rotate(-90 369.15 566.2)" textLength="12.7" lengthAdjust="spacingAndGlyphs">624</text>
<text x="384.1" y="566.2" font-size="9" text-anchor="middle" transform="rotate(-90 384.1 566.2)" textLength="12.7" lengthAdjust="spacingAndGlyphs">628</text>
<text x="399.05" y="566.2" font-size="9" text-anchor="middle" transform="rotate(-90 399.05 566.2)" textLength="12.7" lengthAdjust="spacingAndGlyphs">652</text>
<text x="414" y="566.2" font-size="9" text-anchor="middle" transform="rotate(-90 414 566.2)" textLength="12.7" lengthAdjust="spacingAndGlyphs">654</text>
<text x="428.95" y="566.2" font-size="9" text-anchor="middle" transform="rotate(-90 428.95 566.2)" textLength="12.7" lengthAdjust="spacingAndGlyphs">656</text>
<text x="443.9" y="566.2" font-size="9" text-anchor="middle" transform="rotate(-90 443.9 566.2)" textLength="12.7" lengthAdjust="spacingAndGlyphs">657</text>
<text x="458.85" y="566.2" font-size="9" text-anchor="middle" transform="rotate(-90 458.85 566.2)" textLength="12.7" lengthAdjust="spacingAndGlyphs">658</text>
<text x="469.6" y="571" font-size="9.1">: mouse #</text>
<rect x="248.3" y="578.5" width="219.3" height="25.4" fill="#f3f3f3" stroke="#111" stroke-width="1.1"/>
<rect x="249.4" y="579.6" width="217.1" height="23.2" fill="none" stroke="#fafafa" stroke-width="0.9"/>
<rect x="254.65" y="589.19" width="12.5" height="3.81" rx="1.91" fill="rgb(112,112,112)" filter="url(#bl3)"/>
<rect x="269.6" y="589.08" width="12.5" height="4.05" rx="2.02" fill="rgb(83,83,83)" filter="url(#bl3)"/>
<rect x="284.55" y="589.12" width="12.5" height="3.96" rx="1.98" fill="rgb(93,93,93)" filter="url(#bl3)"/>
<rect x="299.5" y="589.16" width="12.5" height="3.89" rx="1.94" fill="rgb(102,102,102)" filter="url(#bl3)"/>
<rect x="314.45" y="589.26" width="12.5" height="3.69" rx="1.84" fill="rgb(132,132,132)" filter="url(#bl3)"/>
<rect x="329.4" y="589.19" width="12.5" height="3.81" rx="1.91" fill="rgb(112,112,112)" filter="url(#bl3)"/>
<rect x="344.35" y="589.01" width="12.5" height="4.18" rx="2.09" fill="rgb(69,69,69)" filter="url(#bl3)"/>
<rect x="359.3" y="589.27" width="12.5" height="3.66" rx="1.83" fill="rgb(137,137,137)" filter="url(#bl3)"/>
<rect x="374.25" y="588.96" width="12.5" height="4.28" rx="2.14" fill="rgb(60,60,60)" filter="url(#bl3)"/>
<rect x="389.2" y="589.08" width="12.5" height="4.05" rx="2.02" fill="rgb(83,83,83)" filter="url(#bl3)"/>
<rect x="404.15" y="588.82" width="12.5" height="4.55" rx="2.28" fill="rgb(37,37,37)" filter="url(#bl3)"/>
<rect x="419.1" y="589.24" width="12.5" height="3.72" rx="1.86" fill="rgb(127,127,127)" filter="url(#bl3)"/>
<rect x="434.05" y="589.19" width="12.5" height="3.81" rx="1.91" fill="rgb(112,112,112)" filter="url(#bl3)"/>
<rect x="449" y="588.82" width="12.5" height="4.55" rx="2.28" fill="rgb(37,37,37)" filter="url(#bl3)"/>
<text x="473.8" y="596.4" font-size="11.5">PHGDH</text>
<rect x="248.3" y="608" width="219.3" height="23.3" fill="#f3f3f3" stroke="#111" stroke-width="1.1"/>
<rect x="249.4" y="609.1" width="217.1" height="21.1" fill="none" stroke="#fafafa" stroke-width="0.9"/>
<rect x="254.65" y="617.84" width="12.5" height="3.11" rx="1.56" fill="rgb(171,171,171)" filter="url(#bl3)"/>
<rect x="269.6" y="617.77" width="12.5" height="3.26" rx="1.63" fill="rgb(137,137,137)" filter="url(#bl3)"/>
<rect x="284.55" y="617.82" width="12.5" height="3.16" rx="1.58" fill="rgb(158,158,158)" filter="url(#bl3)"/>
<rect x="299.5" y="617.72" width="12.5" height="3.36" rx="1.68" fill="rgb(120,120,120)" filter="url(#bl3)"/>
<rect x="314.45" y="617.55" width="12.5" height="3.69" rx="1.85" fill="rgb(78,78,78)" filter="url(#bl3)"/>
<rect x="329.4" y="617.14" width="12.5" height="4.52" rx="2.26" fill="rgb(13,13,13)" filter="url(#bl3)"/>
<rect x="344.35" y="617.09" width="12.5" height="4.62" rx="2.31" fill="rgb(8,8,8)" filter="url(#bl3)"/>
<rect x="359.3" y="617.58" width="12.5" height="3.65" rx="1.82" fill="rgb(83,83,83)" filter="url(#bl3)"/>
<rect x="374.25" y="617" width="12.5" height="4.8" rx="2.4" fill="rgb(0,0,0)" filter="url(#bl3)"/>
<rect x="389.2" y="617.09" width="12.5" height="4.62" rx="2.31" fill="rgb(8,8,8)" filter="url(#bl3)"/>
<rect x="404.15" y="617.09" width="12.5" height="4.62" rx="2.31" fill="rgb(8,8,8)" filter="url(#bl3)"/>
<rect x="419.1" y="617.52" width="12.5" height="3.76" rx="1.88" fill="rgb(71,71,71)" filter="url(#bl3)"/>
<rect x="434.05" y="617.35" width="12.5" height="4.1" rx="2.05" fill="rgb(42,42,42)" filter="url(#bl3)"/>
<rect x="449" y="617" width="12.5" height="4.8" rx="2.4" fill="rgb(0,0,0)" filter="url(#bl3)"/>
<text x="473.8" y="624" font-size="11.5">PSAT1</text>
<rect x="248.3" y="635.6" width="219.3" height="24.5" fill="#f3f3f3" stroke="#111" stroke-width="1.1"/>
<rect x="249.4" y="636.7" width="217.1" height="22.3" fill="none" stroke="#fafafa" stroke-width="0.9"/>
<rect x="254.65" y="646.28" width="12.5" height="3.04" rx="1.52" fill="rgb(197,197,197)" filter="url(#bl3)"/>
<rect x="269.6" y="646.24" width="12.5" height="3.11" rx="1.56" fill="rgb(171,171,171)" filter="url(#bl3)"/>
<rect x="284.55" y="646.22" width="12.5" height="3.16" rx="1.58" fill="rgb(158,158,158)" filter="url(#bl3)"/>
<rect x="299.5" y="646.16" width="12.5" height="3.29" rx="1.64" fill="rgb(132,132,132)" filter="url(#bl3)"/>
<rect x="314.45" y="645.69" width="12.5" height="4.21" rx="2.11" fill="rgb(33,33,33)" filter="url(#bl3)"/>
<rect x="329.4" y="645.83" width="12.5" height="3.93" rx="1.97" fill="rgb(55,55,55)" filter="url(#bl3)"/>
<rect x="344.35" y="645.69" width="12.5" height="4.21" rx="2.11" fill="rgb(33,33,33)" filter="url(#bl3)"/>
<rect x="359.3" y="645.83" width="12.5" height="3.93" rx="1.97" fill="rgb(55,55,55)" filter="url(#bl3)"/>
<rect x="374.25" y="645.75" width="12.5" height="4.1" rx="2.05" fill="rgb(42,42,42)" filter="url(#bl3)"/>
<rect x="389.2" y="645.72" width="12.5" height="4.15" rx="2.08" fill="rgb(37,37,37)" filter="url(#bl3)"/>
<rect x="404.15" y="645.33" width="12.5" height="3.93" rx="1.97" fill="rgb(55,55,55)" filter="url(#bl3)"/>
<rect x="419.1" y="644.75" width="12.5" height="4.1" rx="2.05" fill="rgb(42,42,42)" filter="url(#bl3)"/>
<rect x="434.05" y="644.45" width="12.5" height="3.69" rx="1.85" fill="rgb(78,78,78)" filter="url(#bl3)"/>
<rect x="449" y="643.54" width="12.5" height="4.52" rx="2.26" fill="rgb(13,13,13)" filter="url(#bl3)"/>
<text x="473.8" y="652.1" font-size="11.5">PSPH</text>
<rect x="248.3" y="664.3" width="219.3" height="25" fill="#f3f3f3" stroke="#111" stroke-width="1.1"/>
<rect x="249.4" y="665.4" width="217.1" height="22.8" fill="none" stroke="#fafafa" stroke-width="0.9"/>
<rect x="254.4" y="675.3" width="13" height="3.4" rx="1.7" fill="rgb(95,95,95)" filter="url(#bl3)"/>
<rect x="254.65" y="681.5" width="12.5" height="5" rx="2.5" fill="rgb(205,205,205)" filter="url(#bl2)"/>
<rect x="269.35" y="675.3" width="13" height="3.4" rx="1.7" fill="rgb(95,95,95)" filter="url(#bl3)"/>
<rect x="269.6" y="681.5" width="12.5" height="5" rx="2.5" fill="rgb(205,205,205)" filter="url(#bl2)"/>
<rect x="284.3" y="675.3" width="13" height="3.4" rx="1.7" fill="rgb(88,88,88)" filter="url(#bl3)"/>
<rect x="284.55" y="681.5" width="12.5" height="5" rx="2.5" fill="rgb(205,205,205)" filter="url(#bl2)"/>
<rect x="299.25" y="675.3" width="13" height="3.4" rx="1.7" fill="rgb(127,127,127)" filter="url(#bl3)"/>
<rect x="299.5" y="681.5" width="12.5" height="5" rx="2.5" fill="rgb(205,205,205)" filter="url(#bl2)"/>
<rect x="314.2" y="675.2" width="13" height="4.2" rx="2.1" fill="rgb(27,27,27)" filter="url(#bl3)"/>
<rect x="314.2" y="679.6" width="13" height="5.2" rx="2.6" fill="rgb(36,36,36)" filter="url(#bl3)"/>
<rect x="314.45" y="684.75" width="12.5" height="3.5" rx="1.75" fill="rgb(158,158,158)" filter="url(#bl2)"/>
<rect x="329.15" y="675.2" width="13" height="4.2" rx="2.1" fill="rgb(27,27,27)" filter="url(#bl3)"/>
<rect x="329.15" y="679.6" width="13" height="5.2" rx="2.6" fill="rgb(36,36,36)" filter="url(#bl3)"/>
<rect x="329.4" y="684.75" width="12.5" height="3.5" rx="1.75" fill="rgb(158,158,158)" filter="url(#bl2)"/>
<rect x="344.1" y="675.2" width="13" height="4.2" rx="2.1" fill="rgb(27,27,27)" filter="url(#bl3)"/>
<rect x="344.1" y="679.6" width="13" height="5.2" rx="2.6" fill="rgb(36,36,36)" filter="url(#bl3)"/>
<rect x="344.35" y="684.75" width="12.5" height="3.5" rx="1.75" fill="rgb(158,158,158)" filter="url(#bl2)"/>
<rect x="359.05" y="675.2" width="13" height="4.2" rx="2.1" fill="rgb(27,27,27)" filter="url(#bl3)"/>
<rect x="359.05" y="679.6" width="13" height="5.2" rx="2.6" fill="rgb(36,36,36)" filter="url(#bl3)"/>
<rect x="359.3" y="684.75" width="12.5" height="3.5" rx="1.75" fill="rgb(158,158,158)" filter="url(#bl2)"/>
<rect x="374" y="675.2" width="13" height="4.2" rx="2.1" fill="rgb(13,13,13)" filter="url(#bl3)"/>
<rect x="374" y="679.6" width="13" height="5.2" rx="2.6" fill="rgb(22,22,22)" filter="url(#bl3)"/>
<rect x="374.25" y="684.75" width="12.5" height="3.5" rx="1.75" fill="rgb(158,158,158)" filter="url(#bl2)"/>
<rect x="388.95" y="675.2" width="13" height="4.2" rx="2.1" fill="rgb(37,37,37)" filter="url(#bl3)"/>
<rect x="388.95" y="679.6" width="13" height="5.2" rx="2.6" fill="rgb(46,46,46)" filter="url(#bl3)"/>
<rect x="389.2" y="684.75" width="12.5" height="3.5" rx="1.75" fill="rgb(158,158,158)" filter="url(#bl2)"/>
<rect x="403.9" y="675.2" width="13" height="4.2" rx="2.1" fill="rgb(21,21,21)" filter="url(#bl3)"/>
<rect x="403.9" y="679.6" width="13" height="5.2" rx="2.6" fill="rgb(30,30,30)" filter="url(#bl3)"/>
<rect x="404.15" y="684.75" width="12.5" height="3.5" rx="1.75" fill="rgb(158,158,158)" filter="url(#bl2)"/>
<rect x="418.85" y="675.2" width="13" height="4.2" rx="2.1" fill="rgb(13,13,13)" filter="url(#bl3)"/>
<rect x="418.85" y="679.6" width="13" height="5.2" rx="2.6" fill="rgb(22,22,22)" filter="url(#bl3)"/>
<rect x="419.1" y="684.75" width="12.5" height="3.5" rx="1.75" fill="rgb(158,158,158)" filter="url(#bl2)"/>
<rect x="433.8" y="675.2" width="13" height="4.2" rx="2.1" fill="rgb(21,21,21)" filter="url(#bl3)"/>
<rect x="433.8" y="679.6" width="13" height="5.2" rx="2.6" fill="rgb(30,30,30)" filter="url(#bl3)"/>
<rect x="434.05" y="684.75" width="12.5" height="3.5" rx="1.75" fill="rgb(158,158,158)" filter="url(#bl2)"/>
<rect x="448.75" y="675.2" width="13" height="4.2" rx="2.1" fill="rgb(8,8,8)" filter="url(#bl3)"/>
<rect x="448.75" y="679.6" width="13" height="5.2" rx="2.6" fill="rgb(16,16,16)" filter="url(#bl3)"/>
<rect x="449" y="684.75" width="12.5" height="3.5" rx="1.75" fill="rgb(158,158,158)" filter="url(#bl2)"/>
<text x="473.8" y="682" font-size="11.5">ASNS</text>
<rect x="248.3" y="693.3" width="219.3" height="24.7" fill="#f3f3f3" stroke="#111" stroke-width="1.1"/>
<rect x="249.4" y="694.4" width="217.1" height="22.5" fill="none" stroke="#fafafa" stroke-width="0.9"/>
<rect x="254.65" y="704.03" width="12.5" height="3.14" rx="1.57" fill="rgb(227,227,227)" filter="url(#bl3)"/>
<rect x="269.6" y="703.93" width="12.5" height="3.35" rx="1.68" fill="rgb(211,211,211)" filter="url(#bl3)"/>
<rect x="284.55" y="703.93" width="12.5" height="3.35" rx="1.68" fill="rgb(211,211,211)" filter="url(#bl3)"/>
<rect x="299.5" y="704" width="12.5" height="3.21" rx="1.6" fill="rgb(222,222,222)" filter="url(#bl3)"/>
<rect x="314.45" y="703.19" width="12.5" height="4.82" rx="2.41" fill="rgb(102,102,102)" filter="url(#bl3)"/>
<rect x="329.4" y="703.47" width="12.5" height="4.26" rx="2.13" fill="rgb(142,142,142)" filter="url(#bl3)"/>
<rect x="344.35" y="703.14" width="12.5" height="4.93" rx="2.46" fill="rgb(95,95,95)" filter="url(#bl3)"/>
<rect x="359.3" y="703.23" width="12.5" height="4.75" rx="2.38" fill="rgb(107,107,107)" filter="url(#bl3)"/>
<rect x="374.25" y="702.6" width="12.5" height="6.01" rx="3" fill="rgb(25,25,25)" filter="url(#bl3)"/>
<rect x="389.2" y="702.6" width="12.5" height="6.01" rx="3" fill="rgb(25,25,25)" filter="url(#bl3)"/>
<rect x="404.15" y="702.35" width="12.5" height="6.5" rx="3.25" fill="rgb(0,0,0)" filter="url(#bl3)"/>
<rect x="419.1" y="703.26" width="12.5" height="4.68" rx="2.34" fill="rgb(112,112,112)" filter="url(#bl3)"/>
<rect x="434.05" y="703.75" width="12.5" height="3.7" rx="1.85" fill="rgb(184,184,184)" filter="url(#bl3)"/>
<rect x="449" y="702.67" width="12.5" height="5.87" rx="2.93" fill="rgb(33,33,33)" filter="url(#bl3)"/>
<text x="473.8" y="711.5" font-size="11.5">ATF4</text>
<rect x="248.3" y="721.5" width="219.3" height="23.5" fill="#f3f3f3" stroke="#111" stroke-width="1.1"/>
<rect x="249.4" y="722.6" width="217.1" height="21.3" fill="none" stroke="#fafafa" stroke-width="0.9"/>
<rect x="254.15" y="732.2" width="13.5" height="3.6" rx="1.8" fill="rgb(13,13,13)" filter="url(#bl3)"/>
<rect x="269.1" y="732.2" width="13.5" height="3.6" rx="1.8" fill="rgb(13,13,13)" filter="url(#bl3)"/>
<rect x="284.05" y="732.2" width="13.5" height="3.6" rx="1.8" fill="rgb(13,13,13)" filter="url(#bl3)"/>
<rect x="299" y="732.2" width="13.5" height="3.6" rx="1.8" fill="rgb(13,13,13)" filter="url(#bl3)"/>
<rect x="313.95" y="732.2" width="13.5" height="3.6" rx="1.8" fill="rgb(33,33,33)" filter="url(#bl3)"/>
<rect x="328.9" y="732.2" width="13.5" height="3.6" rx="1.8" fill="rgb(33,33,33)" filter="url(#bl3)"/>
<rect x="343.85" y="732.2" width="13.5" height="3.6" rx="1.8" fill="rgb(33,33,33)" filter="url(#bl3)"/>
<rect x="358.8" y="732.2" width="13.5" height="3.6" rx="1.8" fill="rgb(33,33,33)" filter="url(#bl3)"/>
<rect x="373.75" y="732.2" width="13.5" height="3.6" rx="1.8" fill="rgb(33,33,33)" filter="url(#bl3)"/>
<rect x="388.7" y="732.2" width="13.5" height="3.6" rx="1.8" fill="rgb(33,33,33)" filter="url(#bl3)"/>
<rect x="403.65" y="732.2" width="13.5" height="3.6" rx="1.8" fill="rgb(33,33,33)" filter="url(#bl3)"/>
<rect x="418.6" y="732.2" width="13.5" height="3.6" rx="1.8" fill="rgb(33,33,33)" filter="url(#bl3)"/>
<rect x="433.55" y="732.2" width="13.5" height="3.6" rx="1.8" fill="rgb(33,33,33)" filter="url(#bl3)"/>
<rect x="448.5" y="732.2" width="13.5" height="3.6" rx="1.8" fill="rgb(33,33,33)" filter="url(#bl3)"/>
<text x="473.8" y="737.9" font-size="11.5">ERK2</text>
<text x="240.9" y="593.6" font-size="7.8" text-anchor="end">55 kDa</text>
<line x1="244.1" y1="590.5" x2="248.3" y2="590.5" stroke="#000" stroke-width="1.1" />
<text x="240.9" y="619.1" font-size="7.8" text-anchor="end">40 kDa</text>
<line x1="244.1" y1="615.3" x2="248.3" y2="615.3" stroke="#000" stroke-width="1.1" />
<text x="240.9" y="648.2" font-size="7.8" text-anchor="end">25 kDa</text>
<line x1="244.1" y1="644.8" x2="248.3" y2="644.8" stroke="#000" stroke-width="1.1" />
<text x="240.9" y="668.8" font-size="7.8" text-anchor="end">70 kDa</text>
<line x1="244.1" y1="666.3" x2="248.3" y2="666.3" stroke="#000" stroke-width="1.1" />
<text x="240.9" y="688.7" font-size="7.8" text-anchor="end">55 kDa</text>
<line x1="244.1" y1="687" x2="248.3" y2="687" stroke="#000" stroke-width="1.1" />
<text x="240.9" y="707.3" font-size="7.8" text-anchor="end">55 kDa</text>
<line x1="244.1" y1="705.3" x2="248.3" y2="705.3" stroke="#000" stroke-width="1.1" />
<text x="240.9" y="732.6" font-size="7.8" text-anchor="end">40 kDa</text>
<line x1="244.1" y1="729.5" x2="248.3" y2="729.5" stroke="#000" stroke-width="1.1" />
<text x="543.5" y="546.2" font-size="16" font-weight="bold">i.</text>
<line x1="586.4" y1="565.6" x2="586.4" y2="669.1" stroke="#000" stroke-width="1.5" />
<line x1="582" y1="669.1" x2="586.4" y2="669.1" stroke="#000" stroke-width="1.5" />
<text x="581.2" y="672.76" font-size="10.6" font-weight="bold" text-anchor="end">0</text>
<line x1="582" y1="634.6" x2="586.4" y2="634.6" stroke="#000" stroke-width="1.5" />
<text x="581.2" y="638.26" font-size="10.6" font-weight="bold" text-anchor="end">50</text>
<line x1="582" y1="600.1" x2="586.4" y2="600.1" stroke="#000" stroke-width="1.5" />
<text x="581.2" y="603.76" font-size="10.6" font-weight="bold" text-anchor="end">100</text>
<line x1="582" y1="565.6" x2="586.4" y2="565.6" stroke="#000" stroke-width="1.5" />
<text x="581.2" y="569.26" font-size="10.6" font-weight="bold" text-anchor="end">150</text>
<line x1="584" y1="651.85" x2="586.4" y2="651.85" stroke="#000" stroke-width="1.5" />
<line x1="584" y1="617.35" x2="586.4" y2="617.35" stroke="#000" stroke-width="1.5" />
<line x1="584" y1="582.85" x2="586.4" y2="582.85" stroke="#000" stroke-width="1.5" />
<line x1="586.5" y1="669.1" x2="655.3" y2="669.1" stroke="#000" stroke-width="1.5" />
<line x1="605.9" y1="669.1" x2="605.9" y2="674.1" stroke="#000" stroke-width="1.5" />
<line x1="635.8" y1="669.1" x2="635.8" y2="674.1" stroke="#000" stroke-width="1.5" />
<rect x="596.3" y="600.1" width="19.7" height="69" fill="#7e7e7e" />
<rect x="625.9" y="575.8" width="19.7" height="93.3" fill="#0533fe" />
<line x1="605.9" y1="592" x2="605.9" y2="600.1" stroke="#000" stroke-width="1.1" />
<line x1="601.9" y1="592" x2="609.9" y2="592" stroke="#000" stroke-width="1.1" />
<line x1="635.8" y1="570.5" x2="635.8" y2="575.8" stroke="#0533fe" stroke-width="1.1" />
<line x1="630.8" y1="570.5" x2="640.8" y2="570.5" stroke="#0533fe" stroke-width="1.1" />
<circle cx="598.5" cy="600.5" r="2.3" fill="#000" stroke="none" stroke-width="0"/>
<circle cx="602.9" cy="590.7" r="2.3" fill="#000" stroke="none" stroke-width="0"/>
<circle cx="609" cy="589.6" r="2.3" fill="#000" stroke="none" stroke-width="0"/>
<circle cx="609" cy="595" r="2.3" fill="#000" stroke="none" stroke-width="0"/>
<circle cx="613.4" cy="602.1" r="2.3" fill="#000" stroke="none" stroke-width="0"/>
<circle cx="603.3" cy="602.7" r="2.3" fill="#000" stroke="none" stroke-width="0"/>
<circle cx="608.4" cy="602.7" r="2.3" fill="#000" stroke="none" stroke-width="0"/>
<circle cx="606.8" cy="608.6" r="2.3" fill="#000" stroke="none" stroke-width="0"/>
<circle cx="605.5" cy="615.9" r="2.3" fill="#000" stroke="none" stroke-width="0"/>
<circle cx="637.9" cy="565.5" r="2.3" fill="#2a9ff6" stroke="none" stroke-width="0"/>
<circle cx="633.1" cy="569.9" r="2.3" fill="#2a9ff6" stroke="none" stroke-width="0"/>
<circle cx="628.7" cy="575.8" r="2.3" fill="#2a9ff6" stroke="none" stroke-width="0"/>
<circle cx="635.3" cy="576.5" r="2.3" fill="#2a9ff6" stroke="none" stroke-width="0"/>
<circle cx="642.7" cy="576.5" r="2.3" fill="#2a9ff6" stroke="none" stroke-width="0"/>
<circle cx="631.3" cy="580.8" r="2.3" fill="#2a9ff6" stroke="none" stroke-width="0"/>
<circle cx="639" cy="580.8" r="2.3" fill="#2a9ff6" stroke="none" stroke-width="0"/>
<circle cx="635.3" cy="586.3" r="2.3" fill="#2a9ff6" stroke="none" stroke-width="0"/>
<path d="M605.5 573.6V551.3H635.7V557.8" fill="none" stroke="#000" stroke-width="1.1" />
<text x="621.5" y="548.01" font-size="8.6" text-anchor="middle">****</text>
<text x="557.6" y="616.2" font-size="10.6" font-weight="bold" text-anchor="middle" transform="rotate(-90 557.6 616.2)" textLength="82.6" lengthAdjust="spacingAndGlyphs">% PHGDH activity</text>
<text x="652.9" y="687.4" font-size="11.6" font-weight="bold" text-anchor="middle" fill="#1d3cf5">ASNase</text>
<path d="M605.3 678V702.3H612.9" fill="none" stroke="#000" stroke-width="1.3" />
<text x="617.3" y="706.8" font-size="11.6" font-weight="bold">Vehicle</text>
<text x="336.5" y="771.5" font-size="16" font-weight="bold">k.</text>
<text x="358.9" y="779.4" font-size="11.2">[U-<tspan dy="-4.2" font-size="7.84">13</tspan><tspan dy="4.2">C]-Glc</tspan></text>
<path d="M420.36 775.92H433.38M425.67 771.29L433.88 775.92L425.67 780.56" fill="none" stroke="#000" stroke-width="1.45"/>
<text x="438.71" y="779.4" font-size="11.2">Serine (M+3)</text>
<text x="523.9" y="779.4" font-size="11.3">[U-<tspan dy="-4.2" font-size="7.91">13</tspan><tspan dy="4.2">C]-Glc</tspan></text>
<path d="M585.91 775.89H599.05M591.27 771.22L599.55 775.89L591.27 780.57" fill="none" stroke="#000" stroke-width="1.45"/>
<text x="604.42" y="779.4" font-size="11.3">Glycine (M+2)</text>
<line x1="402.3" y1="806.2" x2="402.3" y2="924.1" stroke="#000" stroke-width="1.5" />
<line x1="397.8" y1="924.1" x2="402.3" y2="924.1" stroke="#000" stroke-width="1.5" />
<text x="396.2" y="927.76" font-size="10.6" font-weight="bold" text-anchor="end">0.0</text>
<line x1="397.8" y1="884.8" x2="402.3" y2="884.8" stroke="#000" stroke-width="1.5" />
<text x="396.2" y="888.46" font-size="10.6" font-weight="bold" text-anchor="end" textLength="35" lengthAdjust="spacingAndGlyphs">5.0×10<tspan dy="-4.45" font-size="7.21">6</tspan></text>
<line x1="397.8" y1="845.5" x2="402.3" y2="845.5" stroke="#000" stroke-width="1.5" />
<text x="396.2" y="849.16" font-size="10.6" font-weight="bold" text-anchor="end" textLength="35" lengthAdjust="spacingAndGlyphs">1.0×10<tspan dy="-4.45" font-size="7.21">7</tspan></text>
<line x1="397.8" y1="806.2" x2="402.3" y2="806.2" stroke="#000" stroke-width="1.5" />
<text x="396.2" y="809.86" font-size="10.6" font-weight="bold" text-anchor="end" textLength="35" lengthAdjust="spacingAndGlyphs">1.5×10<tspan dy="-4.45" font-size="7.21">7</tspan></text>
<line x1="399.8" y1="904.45" x2="402.3" y2="904.45" stroke="#000" stroke-width="1.5" />
<line x1="399.8" y1="865.15" x2="402.3" y2="865.15" stroke="#000" stroke-width="1.5" />
<line x1="399.8" y1="825.85" x2="402.3" y2="825.85" stroke="#000" stroke-width="1.5" />
<line x1="402.3" y1="924.1" x2="465.4" y2="924.1" stroke="#000" stroke-width="1.5" />
<line x1="421" y1="924.1" x2="421" y2="929.1" stroke="#000" stroke-width="1.5" />
<line x1="448" y1="924.1" x2="448" y2="929.1" stroke="#000" stroke-width="1.5" />
<rect x="412.2" y="915" width="17.6" height="9.1" fill="#ff2400" />
<rect x="439.05" y="853.8" width="17.9" height="70.3" fill="#ff2400" />
<line x1="421" y1="899" x2="421" y2="924.1" stroke="#000" stroke-width="1.1" />
<line x1="416.1" y1="899" x2="425.9" y2="899" stroke="#000" stroke-width="1.1" />
<line x1="447.7" y1="844.1" x2="447.7" y2="863" stroke="#000" stroke-width="1.1" />
<line x1="442.8" y1="844.1" x2="452.6" y2="844.1" stroke="#000" stroke-width="1.1" />
<line x1="442.8" y1="863" x2="452.6" y2="863" stroke="#000" stroke-width="1.1" />
<circle cx="421.2" cy="890.6" r="2.3" fill="#000" stroke="none" stroke-width="0"/>
<circle cx="414.6" cy="923.4" r="2.3" fill="#000" stroke="none" stroke-width="0"/>
<circle cx="421.2" cy="923.4" r="2.3" fill="#000" stroke="none" stroke-width="0"/>
<circle cx="427.7" cy="923.4" r="2.3" fill="#000" stroke="none" stroke-width="0"/>
<circle cx="447.7" cy="840.1" r="2.3" fill="#000" stroke="none" stroke-width="0"/>
<circle cx="443" cy="856.4" r="2.3" fill="#000" stroke="none" stroke-width="0"/>
<circle cx="451.4" cy="856.4" r="2.3" fill="#000" stroke="none" stroke-width="0"/>
<circle cx="447.7" cy="862.5" r="2.3" fill="#000" stroke="none" stroke-width="0"/>
<path d="M421.2 865.6V824.1H447.7V832" fill="none" stroke="#000" stroke-width="1.1" />
<text x="435.6" y="820.9" font-size="11.5" text-anchor="middle">***</text>
<text x="354" y="865.6" font-size="10.2" font-weight="bold" text-anchor="middle" transform="rotate(-90 354 865.6)">peak area</text>
<line x1="576.5" y1="813.3" x2="576.5" y2="922.8" stroke="#000" stroke-width="1.5" />
<line x1="572" y1="922.8" x2="576.5" y2="922.8" stroke="#000" stroke-width="1.5" />
<text x="570.4" y="926.53" font-size="10.8" font-weight="bold" text-anchor="end">0</text>
<line x1="572" y1="886.3" x2="576.5" y2="886.3" stroke="#000" stroke-width="1.5" />
<text x="570.4" y="890.03" font-size="10.8" font-weight="bold" text-anchor="end" textLength="28.89" lengthAdjust="spacingAndGlyphs">2×10<tspan dy="-4.54" font-size="7.34">7</tspan></text>
<line x1="572" y1="849.8" x2="576.5" y2="849.8" stroke="#000" stroke-width="1.5" />
<text x="570.4" y="853.53" font-size="10.8" font-weight="bold" text-anchor="end" textLength="28.89" lengthAdjust="spacingAndGlyphs">4×10<tspan dy="-4.54" font-size="7.34">7</tspan></text>
<line x1="572" y1="813.3" x2="576.5" y2="813.3" stroke="#000" stroke-width="1.5" />
<text x="570.4" y="817.03" font-size="10.8" font-weight="bold" text-anchor="end" textLength="28.89" lengthAdjust="spacingAndGlyphs">6×10<tspan dy="-4.54" font-size="7.34">7</tspan></text>
<line x1="574" y1="904.55" x2="576.5" y2="904.55" stroke="#000" stroke-width="1.5" />
<line x1="574" y1="868.05" x2="576.5" y2="868.05" stroke="#000" stroke-width="1.5" />
<line x1="574" y1="831.55" x2="576.5" y2="831.55" stroke="#000" stroke-width="1.5" />
<line x1="576.5" y1="922.8" x2="642.1" y2="922.8" stroke="#000" stroke-width="1.5" />
<line x1="595.5" y1="922.8" x2="595.5" y2="927.8" stroke="#000" stroke-width="1.5" />
<line x1="623.6" y1="922.8" x2="623.6" y2="927.8" stroke="#000" stroke-width="1.5" />
<rect x="586" y="898.4" width="19" height="24.4" fill="#0990fe" />
<rect x="614.1" y="842.5" width="19" height="80.3" fill="#0990fe" />
<line x1="595.6" y1="884.5" x2="595.6" y2="912.4" stroke="#000" stroke-width="1.1" />
<line x1="590.7" y1="884.5" x2="600.5" y2="884.5" stroke="#000" stroke-width="1.1" />
<line x1="590.7" y1="912.4" x2="600.5" y2="912.4" stroke="#000" stroke-width="1.1" />
<line x1="623.8" y1="828.3" x2="623.8" y2="856.4" stroke="#000" stroke-width="1.1" />
<line x1="618.9" y1="828.3" x2="628.7" y2="828.3" stroke="#000" stroke-width="1.1" />
<line x1="618.9" y1="856.4" x2="628.7" y2="856.4" stroke="#000" stroke-width="1.1" />
<circle cx="595.6" cy="877.4" r="2.3" fill="#000" stroke="none" stroke-width="0"/>
<circle cx="588.6" cy="905.5" r="2.3" fill="#000" stroke="none" stroke-width="0"/>
<circle cx="595.6" cy="905.5" r="2.3" fill="#000" stroke="none" stroke-width="0"/>
<circle cx="603" cy="905.5" r="2.3" fill="#000" stroke="none" stroke-width="0"/>
<circle cx="623.8" cy="824.4" r="2.3" fill="#000" stroke="none" stroke-width="0"/>
<circle cx="623.8" cy="840.6" r="2.3" fill="#000" stroke="none" stroke-width="0"/>
<circle cx="623.8" cy="846.7" r="2.3" fill="#000" stroke="none" stroke-width="0"/>
<circle cx="623.8" cy="858.3" r="2.3" fill="#000" stroke="none" stroke-width="0"/>
<path d="M595.6 859V804.4H623.8V812.5" fill="none" stroke="#000" stroke-width="1.1" />
<text x="610.1" y="798.29" font-size="10.5" text-anchor="middle">**</text>
<text x="536" y="867" font-size="10.2" font-weight="bold" text-anchor="middle" transform="rotate(-90 536 867)">peak area</text>
<text x="462.5" y="940.7" font-size="11.6" font-weight="bold" text-anchor="middle" fill="#1d3cf5">ASNase</text>
<path d="M420.9 931.9V956.4H429" fill="none" stroke="#000" stroke-width="1.3" />
<text x="431.1" y="958.3" font-size="11.6" font-weight="bold">Vehicle</text>
<text x="637.1" y="939.7" font-size="11.6" font-weight="bold" text-anchor="middle" fill="#1d3cf5">ASNase</text>
<path d="M595.7 930.9V955.8H603.2" fill="none" stroke="#000" stroke-width="1.3" />
<text x="604.7" y="957.5" font-size="11.6" font-weight="bold">Vehicle</text>
<text x="1" y="768.5" font-size="16" font-weight="bold">j.</text>
<text x="54.7" y="786.8" font-size="10.9" text-anchor="middle">OxPhos-dependent</text>
<text x="54.7" y="799.3" font-size="10.9" text-anchor="middle">Eμ-<tspan font-style="italic">Myc</tspan> cells</text>
<g stroke="#222" stroke-width="0.9"><ellipse cx="45.8" cy="812.3" rx="5.8" ry="3.8" fill="url(#cg)"/><ellipse cx="37.6" cy="817" rx="5.9" ry="4.6" fill="url(#cg)"/><ellipse cx="52.9" cy="816.6" rx="5.9" ry="4.6" fill="url(#cg)"/><ellipse cx="45.3" cy="821.2" rx="6.1" ry="5" fill="url(#cg)"/></g>
<line x1="44.5" y1="833.3" x2="44.5" y2="854.5" stroke="#000" stroke-width="1.3" />
<path d="M40.6 853.3H48.4L44.5 860.5Z" fill="#000" stroke="#000" stroke-width="0" />
<text x="25.8" y="849.7" font-size="10.4" font-style="italic">I.V</text>
<path d="M45 875.5C43 869.5 40 866.6 36 866.8C30.5 867 24 873 21 876.5C20 877.8 18.5 878.3 17.8 877.4" fill="none" stroke="#000" stroke-width="1.9" stroke-linecap="round"/>
<path d="M44 873.5C42 869.5 39.5 867.8 36 868C31 868.3 26 872.5 22.5 875.5" fill="none" stroke="#d8ab80" stroke-width="0.7"/>
<path d="M45 874.4C37 874.4 31.4 882 31.4 891C31.4 897 32.5 902 35 906L45 920.8L55 906C57.5 902 58.7 897 58.7 891C58.7 882 53 874.4 45 874.4Z" fill="#000"/>
<clipPath id="e1"><ellipse cx="36" cy="899" rx="5.5" ry="7.9"/></clipPath>
<ellipse cx="36" cy="899" rx="5.7" ry="8.1" fill="#000" stroke="#c9a273" stroke-width="0.9"/>
<ellipse cx="35.7" cy="902.6" rx="5.6" ry="7" fill="#fdd2a0" clip-path="url(#e1)"/>
<clipPath id="e2"><ellipse cx="53.8" cy="899" rx="5.5" ry="7.9"/></clipPath>
<ellipse cx="53.8" cy="899" rx="5.7" ry="8.1" fill="#000" stroke="#c9a273" stroke-width="0.9"/>
<ellipse cx="54.1" cy="902.6" rx="5.6" ry="7" fill="#fdd2a0" clip-path="url(#e2)"/>
<path d="M45 892.5L41.9 899.6L35.6 907.3L45 920.9L54.4 907.3L48.1 899.6Z" fill="#000"/>
<ellipse cx="40.9" cy="910.4" rx="0.8" ry="1.2" fill="#ddd"/>
<ellipse cx="48.4" cy="910.4" rx="0.8" ry="1.2" fill="#ddd"/>
<path d="M43.6 917.2H46.4L45 919.6Z" fill="#f7a6cf" stroke="#f7a6cf" stroke-width="0.8"/>
<g stroke="#777" stroke-width="0.55" fill="none"><path d="M40 916.5L33.5 915M40 917.5L34 920.8M41 918.5L37.5 923.5"/><path d="M50 916.5L56.5 915M50 917.5L56 920.8M49 918.5L52.5 923.5"/></g>
<text x="4.5" y="913.9" font-size="13.4" font-weight="bold">WT</text>
<line x1="61.2" y1="907.1" x2="255" y2="907.1" stroke="#000" stroke-width="2" />
<path d="M253 903.6L261 907.3L253 911Z" fill="#000" stroke="#000" stroke-width="0" />
<line x1="87.6" y1="898.6" x2="87.6" y2="915.7" stroke="#000" stroke-width="2" />
<line x1="170.9" y1="898.2" x2="170.9" y2="915.5" stroke="#000" stroke-width="2" />
<text x="47.9" y="940.9" font-size="10.2" text-anchor="middle">Day 0</text>
<text x="87.6" y="940.9" font-size="10.2" text-anchor="middle">Day 7</text>
<text x="171.7" y="940.9" font-size="10.2" text-anchor="middle">Endpoint</text>
<line x1="86.5" y1="892.6" x2="165" y2="892.6" stroke="#8c8c8c" stroke-width="1.5" />
<path d="M163.4 888.1L170.8 892.6L163.4 897.1Z" fill="#8c8c8c" stroke="#000" stroke-width="0" />
<line x1="177" y1="892.6" x2="210" y2="892.6" stroke="#8c8c8c" stroke-width="1.5" />
<path d="M178.8 888.1L171.4 892.6L178.8 897.1Z" fill="#8c8c8c" stroke="#000" stroke-width="0" />
<path d="M208.9 888.1L216.3 892.6L208.9 897.1Z" fill="#8c8c8c" stroke="#000" stroke-width="0" />
<line x1="223" y1="892.6" x2="253" y2="892.6" stroke="#8c8c8c" stroke-width="1.5" />
<path d="M224.3 888.1L216.9 892.6L224.3 897.1Z" fill="#8c8c8c" stroke="#000" stroke-width="0" />
<path d="M252.2 888.1L259.6 892.6L252.2 897.1Z" fill="#8c8c8c" stroke="#000" stroke-width="0" />
<text x="193.2" y="884.8" font-size="11.3" text-anchor="middle" fill="#8c8c8c">20 min</text>
<text x="237.9" y="884.8" font-size="11.3" text-anchor="middle" fill="#8c8c8c">20 min</text>
<line x1="170.7" y1="849.7" x2="170.7" y2="906" stroke="#b0b0b0" stroke-width="1.6" stroke-dasharray="4.8 4.3"/>
<line x1="216.6" y1="849.7" x2="216.6" y2="906" stroke="#b0b0b0" stroke-width="1.6" stroke-dasharray="4.8 4.3"/>
<line x1="259.9" y1="849.7" x2="259.9" y2="906" stroke="#b0b0b0" stroke-width="1.6" stroke-dasharray="4.8 4.3"/>
<line x1="259.9" y1="849.8" x2="266" y2="849.8" stroke="#b0b0b0" stroke-width="1.6" />
<path d="M264.5 845.8L271.3 849.8L264.5 853.8Z" fill="#b0b0b0" stroke="#000" stroke-width="0" />
<text x="293.4" y="853.3" font-size="10.9" text-anchor="middle">harvest</text>
<text x="293.3" y="865.9" font-size="10.9" text-anchor="middle">lymphomas</text>
<text x="97.4" y="870.9" font-size="12.7" font-weight="bold">Vehicle</text>
<text x="145.2" y="870.9" font-size="12.7">or</text>
<text x="128.5" y="886.6" font-size="12.7" font-weight="bold" text-anchor="middle" fill="#1d3cf5">ASNase</text>
<text x="192.8" y="806.1" font-size="13.2" text-anchor="middle" fill="#f41515">[U-<tspan dy="-4.6" font-size="9">13</tspan><tspan dy="4.6">C]-glucose</tspan></text>
<path d="M164.5 812.8H176.9L170.7 825Z" fill="#f41515" stroke="#000" stroke-width="0" />
<path d="M210.4 812.8H222.8L216.6 825Z" fill="#f41515" stroke="#000" stroke-width="0" />
<text x="152.8" y="839.3" font-size="10.8" fill="#f41515">1<tspan dy="-3.6" font-size="6.2">st</tspan><tspan dy="3.6"> bolus</tspan></text>
<text x="196.6" y="839.3" font-size="10.8" fill="#f41515">2<tspan dy="-3.6" font-size="6.2">nd</tspan><tspan dy="3.6"> bolus</tspan></text>
</svg>
</body></html>
